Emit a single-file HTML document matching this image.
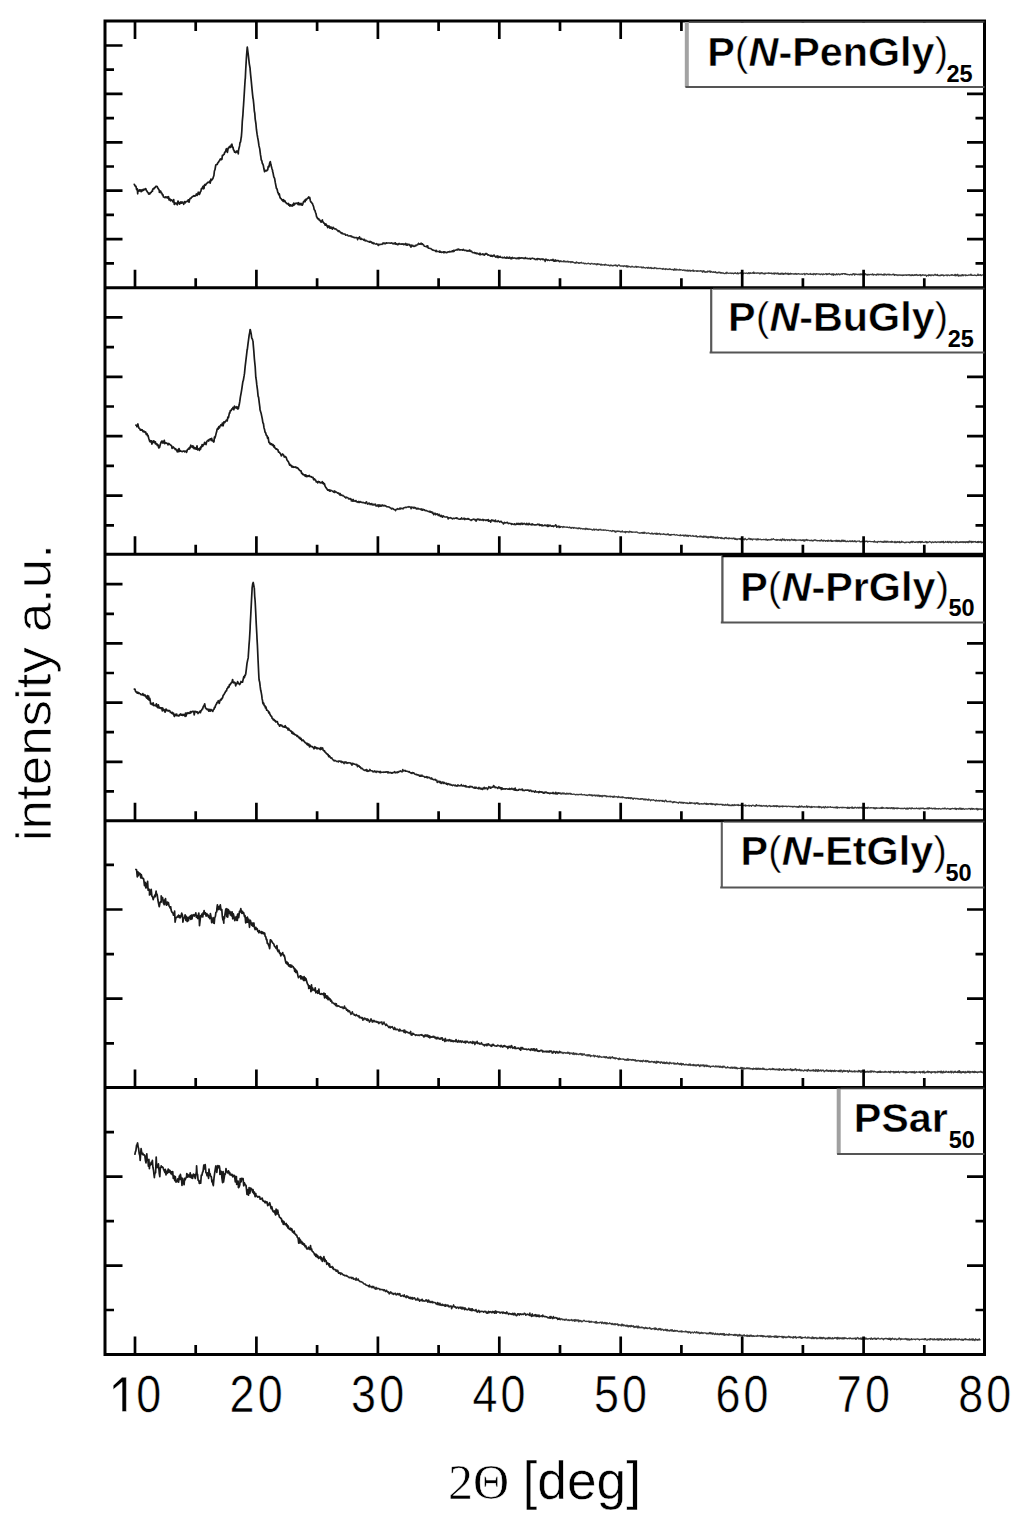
<!DOCTYPE html>
<html><head><meta charset="utf-8"><style>
html,body{margin:0;padding:0;background:#fff;}
body{width:1024px;height:1527px;overflow:hidden;}
svg{display:block;}
text{font-family:"Liberation Sans",sans-serif;}
</style></head><body>
<svg width="1024" height="1527" viewBox="0 0 1024 1527">
<rect width="1024" height="1527" fill="#fff"/>
<g fill="none" stroke-linejoin="round" stroke-linecap="round">
<path d="M134.3 184.3L134.8 185.3L135.4 186.3L136.0 186.4L136.6 189.6L137.3 188.9L137.7 193.8L137.8 191.1L138.1 190.4L138.8 191.1L139.4 189.8L139.9 190.8L140.6 190.0L141.2 191.7L141.7 190.5L141.9 190.0L142.6 190.8L143.2 189.3L143.7 190.1L144.3 189.4L145.1 189.1L145.6 189.2L145.7 188.6L146.3 190.2L147.0 191.2L147.4 192.0L148.1 192.7L148.6 194.0L148.8 193.7L149.3 193.1L149.7 194.0L150.5 192.7L151.1 192.5L151.7 191.4L152.5 191.2L152.5 190.2L153.2 188.6L153.9 188.9L154.5 187.7L155.2 187.6L155.8 186.4L156.4 186.3L156.5 186.3L157.2 186.5L157.7 188.0L158.2 188.4L158.7 189.6L159.3 190.2L159.4 192.4L160.0 191.2L160.7 191.2L161.2 193.0L161.8 193.1L162.3 194.8L162.9 194.7L163.5 197.0L164.2 197.1L164.2 197.0L164.9 197.7L165.6 196.9L166.3 197.7L167.1 196.9L167.8 198.1L168.5 196.7L169.0 199.9L169.0 199.0L169.7 198.6L170.5 200.8L171.2 199.8L171.8 200.4L172.5 200.6L173.0 201.8L173.7 199.5L174.3 204.5L174.9 202.9L175.3 203.6L175.9 203.8L176.1 203.2L176.8 203.3L177.3 204.8L178.0 201.0L178.6 202.1L179.0 202.9L179.6 204.1L180.2 203.0L180.8 201.9L181.0 202.0L181.4 203.2L182.1 201.9L182.5 203.0L183.2 203.1L183.7 203.4L183.7 204.3L184.4 201.6L185.2 202.8L185.8 201.5L186.6 201.6L187.1 201.3L187.6 201.4L188.2 199.9L188.6 200.0L188.7 200.7L189.1 202.2L189.7 199.2L190.3 198.3L190.8 198.4L191.3 197.7L192.0 197.0L192.5 196.6L193.3 196.3L193.5 196.0L194.0 195.6L194.6 196.1L195.2 196.0L195.8 195.1L196.4 194.0L197.1 195.4L197.7 194.2L198.3 192.2L199.1 193.8L199.3 194.5L199.7 193.9L200.3 191.9L200.9 191.2L201.4 188.7L202.0 188.7L202.8 186.8L203.2 186.2L203.4 188.8L204.0 188.5L204.4 185.3L205.0 184.5L205.6 185.1L206.0 184.3L206.7 183.4L207.3 183.0L207.8 182.4L208.1 182.3L208.4 182.3L209.0 182.5L209.7 181.1L210.2 183.1L210.9 179.1L211.6 180.4L212.0 179.4L212.4 179.3L213.0 178.4L213.1 177.7L213.9 175.5L214.4 171.0L215.0 169.7L215.6 166.0L215.9 164.8L216.1 164.9L216.7 164.4L217.2 164.4L217.8 162.9L218.4 162.4L218.9 161.1L219.5 160.7L220.2 159.1L220.6 159.4L220.8 158.9L221.2 159.7L221.9 159.3L222.4 155.3L222.9 155.6L223.7 154.5L224.2 154.2L224.7 152.2L225.2 152.2L225.7 151.1L225.9 150.0L226.4 148.7L226.9 149.7L227.4 152.3L228.2 148.0L228.6 148.2L228.7 148.1L229.5 146.4L229.9 146.9L230.5 147.4L231.1 145.3L231.6 144.3L231.9 144.2L232.5 147.4L233.0 147.2L233.4 149.7L234.0 150.3L234.5 152.1L234.5 151.7L235.2 152.3L235.9 152.7L236.4 151.1L237.0 151.9L237.7 151.2L238.3 153.8L238.4 151.1L239.0 148.2L239.6 145.9L240.0 142.7L240.6 141.7L241.3 136.6L241.3 137.4L241.8 131.3L242.3 121.3L242.9 114.9L243.3 108.1L243.5 105.7L244.1 96.3L244.8 84.7L245.2 78.8L245.3 78.7L245.7 70.0L246.4 57.9L246.6 55.0L247.2 47.7L247.3 47.2L248.0 52.7L248.2 54.0L248.5 56.7L249.3 63.8L250.1 68.4L250.1 69.1L250.6 74.6L251.2 80.3L252.0 88.8L252.6 94.9L253.0 98.4L253.2 98.8L253.8 104.5L254.3 110.8L254.8 113.5L255.2 119.1L255.9 123.5L256.4 129.2L257.0 133.5L257.1 134.2L257.6 137.2L258.3 140.8L259.0 145.9L259.7 148.6L260.5 154.9L260.9 157.0L261.2 159.7L261.8 160.7L262.3 163.3L262.9 164.3L263.4 165.8L263.9 168.8L264.6 171.7L264.8 170.6L265.2 171.1L265.8 170.3L266.6 170.9L267.2 170.2L267.7 169.6L267.7 169.8L268.2 166.7L269.0 166.8L269.6 163.4L270.2 161.8L270.3 161.7L270.8 164.3L271.3 166.2L271.9 168.4L272.6 170.6L272.6 171.5L273.1 173.1L273.8 176.9L274.6 178.4L275.3 182.7L276.0 186.2L276.4 188.4L276.5 188.2L277.1 189.2L277.8 192.4L278.2 192.9L278.8 194.6L279.3 194.0L279.9 197.1L280.4 198.0L280.4 198.2L281.0 198.6L281.7 199.5L282.2 200.4L282.6 199.9L283.1 201.3L283.5 199.7L284.0 201.4L284.8 200.7L285.5 202.3L285.9 202.6L286.2 202.9L286.5 203.4L287.1 203.8L287.6 203.8L288.1 203.4L288.8 205.1L289.4 204.4L290.0 206.1L290.2 205.8L290.5 204.8L291.0 205.1L291.5 205.5L292.1 206.2L292.8 204.5L293.3 205.4L293.8 203.2L294.2 205.0L294.8 204.3L295.4 203.4L296.0 203.4L296.1 203.4L296.7 203.2L297.4 203.2L298.1 204.5L298.6 202.7L299.2 204.7L299.8 203.7L300.5 204.7L301.0 203.3L301.7 204.9L301.9 204.2L302.3 205.1L302.8 204.1L303.4 201.9L304.1 201.9L304.5 200.4L305.1 201.7L305.7 199.4L306.4 199.9L307.2 198.5L307.7 198.3L308.5 197.4L308.7 197.0L309.2 198.2L309.7 197.5L310.3 200.4L310.7 201.7L311.4 202.2L312.1 203.3L312.6 203.8L312.8 204.5L313.6 206.7L314.2 209.7L314.9 210.3L315.5 212.5L316.0 213.7L316.6 216.8L317.0 217.1L317.5 218.5L318.2 218.9L318.6 218.6L319.1 219.9L319.5 219.9L320.3 220.9L320.8 221.7L321.2 222.2L321.9 220.7L322.4 219.9L322.4 221.4L323.1 222.0L323.8 223.0L324.5 223.5L325.2 225.2L325.9 223.9L326.6 225.6L327.0 225.3L327.7 227.6L327.8 226.9L328.3 226.0L329.0 227.0L329.4 226.2L330.1 228.1" stroke="#1a1a1a" stroke-width="1.7"/>
<path d="M330.1 228.1L330.9 226.9L331.3 228.4L331.9 227.5L332.5 229.2L333.2 227.3L333.7 227.9L333.7 228.3L334.2 228.3L334.7 228.9L335.4 228.8L336.1 229.5L336.6 229.3L337.2 230.4L337.7 230.5L338.3 231.5L338.9 230.6L339.3 231.6L339.5 231.8L339.9 231.5L340.7 233.0L341.2 232.5L341.9 233.7L342.4 233.0L343.1 233.9L343.8 234.0L344.4 234.1L345.0 234.0L345.4 234.7L345.6 235.3L346.3 235.0L347.0 235.0L347.5 234.9L347.9 235.8L348.6 236.0L349.4 236.0L350.0 235.7L350.6 236.0L351.2 236.6L351.7 236.1L352.3 237.0L352.8 237.0L353.4 237.4L353.9 237.1L354.4 237.7L355.1 237.7L355.9 237.6L356.4 237.6L357.1 237.8L357.6 239.7L358.3 237.7L359.0 238.3L359.0 238.2L359.5 236.8L360.0 238.6L360.4 239.4L361.0 238.2L361.6 239.4L362.1 239.3L362.6 239.1L363.1 239.4L363.8 240.2L364.3 239.2L365.1 241.0L365.7 240.2L366.3 240.7L366.9 240.9L367.6 241.4L368.3 241.7L369.0 241.3L369.6 242.3L370.2 241.4L371.0 242.2L371.5 241.9L372.2 243.4L373.0 242.6L373.6 243.8L374.1 243.1L374.6 243.6L375.2 243.9L375.9 244.1L376.7 243.5L377.4 244.6L377.9 244.6L378.4 245.5L378.6 244.8L378.9 244.1L379.4 244.6L380.1 244.6L380.8 244.3L381.5 244.2L382.1 244.4L382.8 243.0L383.3 243.6L383.9 242.9L384.6 243.6L385.0 243.2L385.5 243.8L386.2 242.8L386.4 242.9L386.7 243.3L387.3 243.0L387.9 243.1L388.6 243.0L389.0 242.9L389.5 243.0L390.1 243.2L390.7 243.1L391.2 243.1L391.8 242.8L392.6 243.6L393.1 243.5L393.8 243.9L394.2 243.1L394.8 243.9L395.4 242.7L395.9 244.3L396.6 243.8L397.4 244.8L397.8 244.7L398.1 243.7L398.6 244.5L399.1 243.4L399.8 243.9L400.5 243.9L401.0 244.3L401.7 243.8L402.4 244.3L403.1 243.7L403.6 244.7L404.3 244.1L405.0 244.5L405.7 243.4L406.3 245.3L406.8 244.0L407.4 245.2L407.9 244.5L407.9 244.0L408.6 244.8L409.3 244.4L409.9 245.8L410.4 245.1L411.0 247.3L411.7 245.1L412.2 246.1L412.9 245.4L413.6 246.4L413.8 246.4L414.0 246.5L414.8 246.1L415.2 245.3L415.8 245.9L416.5 245.1L417.1 245.0L417.7 244.8L418.4 243.3L419.0 244.1L419.5 244.3L420.0 243.7L420.4 244.2L420.6 243.5L421.1 243.1L421.8 244.4L422.4 243.7L423.1 244.8L423.6 244.7L424.1 246.0L424.7 246.3L425.4 246.4L425.9 246.5L426.5 246.7L427.0 245.9L427.4 247.4L427.7 245.7L428.2 247.8L428.8 248.3L429.3 248.2L430.0 248.4L430.6 248.4L431.2 249.0L431.9 249.5L432.4 250.1L432.9 249.7L433.4 250.2L433.8 250.5L434.5 250.4L435.2 250.6L435.7 251.5L436.2 250.2L436.2 251.3L436.8 251.7L437.4 251.3L438.1 251.4L438.8 251.4L439.5 252.3L439.9 250.9L440.5 252.2L441.0 251.7L441.6 252.4L442.2 252.2L442.7 252.3L443.2 251.7L443.9 253.0L444.4 251.7L445.1 252.0L445.8 252.5L446.6 252.7L447.0 252.7L447.1 252.0L447.8 252.1L448.4 251.8L449.0 252.1L449.8 251.4L450.5 251.9L451.0 251.6L451.7 251.6L452.3 250.7L453.0 251.7L453.6 250.3L454.1 251.4L454.8 250.2L455.4 250.3L456.0 250.0L456.6 249.9L457.2 249.3L457.7 249.9L458.3 249.0L458.7 249.3L458.7 249.7L459.3 249.4L460.0 250.2L460.6 249.7L461.2 249.8L462.0 250.0L462.7 250.3L463.2 249.3L463.9 249.9L464.5 250.5L465.0 250.5L465.5 250.3L466.0 250.5L466.5 250.4L467.1 251.3L467.8 250.5L468.4 250.6L468.4 250.7L469.1 251.3L469.8 249.9L470.2 251.0L471.0 251.5L471.6 251.1L472.4 252.6L473.0 252.7L473.7 252.7L474.3 252.4L475.0 253.4L475.7 252.7L476.2 253.6L476.5 253.6L477.0 253.1L477.7 253.7L478.3 254.1L478.8 254.2L479.2 253.3L479.7 254.6L480.2 253.2L480.6 254.7L481.2 254.4L481.9 254.3L482.5 253.7L483.1 254.8L483.8 254.1L484.3 255.3L484.9 254.7L485.6 253.5L486.1 254.2L486.6 253.5L487.4 254.3L488.0 255.2L488.0 255.1L488.6 254.8L489.1 255.2L489.8 255.4L490.4 256.1L490.9 255.2L491.3 256.2L491.8 255.6L492.5 256.4L493.0 255.5L493.6 256.0L494.1 254.9L494.5 256.1L495.0 256.4L495.6 257.1L496.1 256.2L496.5 256.9L497.0 256.0L497.4 257.5L498.0 255.9L498.5 257.6L498.9 256.7L499.5 257.3L499.7 257.1L500.1 256.3L500.7 257.3L501.2 257.4L501.7 257.5L502.3 257.3L502.7 257.9L503.5 257.7L504.0 257.6L504.4 257.1L505.0 258.0L505.5 257.8L506.2 258.3L506.7 257.1L507.2 258.0L507.6 257.2L508.3 258.3L508.8 258.0L509.5 258.1L509.5 257.0L510.1 257.8L510.9 258.9L511.4 257.7L511.9 258.7L512.4 257.4L513.1 258.0L513.8 258.2L514.3 257.9L514.8 258.0L515.4 258.4L516.2 258.2L516.8 258.7L517.3 258.0L517.7 258.5L518.1 258.0L518.6 258.7L519.0 257.6L519.2 258.1L519.5 258.6L520.1 257.9L520.9 258.3L521.4 257.8L522.2 258.1L522.8 257.9L523.5 258.5L524.2 258.1L525.0 258.6L525.4 257.5L525.9 258.2L526.6 258.4L527.3 258.2L527.8 258.8L528.3 258.7L529.0 258.6L529.5 258.7L530.0 258.3L530.6 259.2L531.3 258.6L532.0 258.3L532.5 258.1L533.2 258.6L533.9 258.8L534.4 258.6L534.6 258.9L535.2 259.6L536.0 259.0L536.5 258.9L537.1 259.8L537.6 258.5L538.3 259.0L538.9 258.8L539.4 259.1L539.9 258.9L540.5 259.7L541.2 259.0L541.9 259.1L542.4 258.9L543.0 259.7L543.5 259.1L544.2 259.8L544.6 259.8L545.2 261.4L545.9 259.0L546.5 259.5L547.0 259.8L547.5 260.4L548.2 259.8L548.9 260.2L549.6 260.5L550.4 260.1L550.9 259.8L551.7 260.2L552.4 260.5L552.9 259.3L553.5 260.2L553.9 261.3L554.5 260.2L555.2 261.2L555.7 259.9L556.3 260.9L556.8 260.9L557.2 260.7L557.9 260.4L558.4 260.8L558.8 261.0L558.8 260.7L559.3 261.6L559.9 261.6L560.6 261.3" stroke="#222" stroke-width="1.55"/>
<path d="M560.6 261.3L561.0 260.7L561.5 261.6L562.3 261.6L562.8 261.6L563.4 260.8L564.0 261.9L564.7 260.9L565.3 261.9L566.0 261.6L566.6 261.8L567.1 261.2L567.6 261.9L568.0 261.2L568.8 262.2L569.2 261.7L569.6 261.8L570.4 261.6L570.9 262.7L571.6 261.6L572.1 262.2L572.7 261.6L573.2 262.4L573.9 262.5L574.5 263.0L575.2 262.5L575.9 263.3L576.6 261.9L577.2 262.7L577.8 262.6L578.4 263.3L578.8 262.6L579.6 263.3L580.2 262.6L580.9 262.9L581.4 262.3L582.0 263.1L582.6 263.2L583.2 263.2L583.3 262.9L583.7 263.3L584.3 263.8L584.9 263.1L585.3 263.7L585.9 263.5L586.6 263.9L587.2 263.7L587.9 263.4L588.5 263.2L589.0 263.7L589.5 263.6L590.3 264.4L590.9 263.5L591.4 263.7L591.9 263.3L592.4 263.9L592.9 263.8L593.6 264.2L594.3 263.6L595.0 264.2L595.8 263.9L596.4 264.8L597.2 263.6L597.8 264.6L598.4 263.9L599.1 264.3L599.9 264.1L600.6 265.0L601.2 264.1L601.9 265.2L602.5 264.6L603.3 264.8L604.0 264.7L604.6 265.2L605.3 264.2L605.8 265.0L606.3 264.7L606.9 265.1L607.5 265.1L608.1 265.4L608.7 265.0L609.2 265.5L609.9 266.0L610.4 265.2L610.9 265.0L611.5 265.7L612.2 265.4L612.9 266.0L613.4 265.3L613.8 265.3L614.4 265.2L614.9 265.5L615.4 264.9L615.9 265.6L616.6 265.2L617.2 266.5L618.0 265.3L618.8 264.9L619.5 265.2L619.9 265.9L620.1 266.0L620.5 265.8L621.1 266.1L621.7 265.9L622.3 266.1L622.9 265.8L623.4 266.5L624.2 265.7L624.7 266.1L625.3 266.0L626.0 266.6L626.7 265.6L627.2 267.2L627.8 266.0L628.5 266.7L628.9 266.2L629.4 266.6L630.0 266.7L630.6 267.1L631.1 266.9L631.5 266.9L632.0 266.1L632.7 266.8L633.3 266.8L634.0 267.2L634.8 267.0L635.5 266.9L636.0 266.2L636.4 267.3L636.9 266.7L637.4 267.1L638.0 266.6L638.4 266.8L639.0 267.2L639.5 267.2L640.0 267.2L640.5 267.1L641.2 266.8L641.8 267.8L642.3 267.3L642.8 267.9L643.3 267.0L644.0 267.7L644.6 267.6L645.4 268.2L646.1 267.7L646.6 267.7L647.1 267.4L647.8 268.2L648.5 267.3L649.1 268.2L649.8 267.8L650.4 268.1L650.9 267.4L651.4 268.6L651.9 268.0L652.5 268.4L653.2 268.1L654.0 268.6L654.6 267.5L655.2 268.1L656.0 268.0L656.5 268.3L656.7 268.7L657.3 268.4L657.9 268.6L658.5 268.6L659.0 268.3L659.5 268.5L660.1 268.4L660.9 268.7L661.5 268.8L662.1 268.7L662.7 269.3L663.2 268.4L664.0 269.2L664.5 269.0L665.3 269.6L665.8 268.6L666.3 268.9L666.9 269.1L667.5 269.5L668.2 269.1L668.9 269.5L669.7 268.8L670.3 269.4L670.8 269.2L671.4 269.7L672.0 269.5L672.6 269.6L673.1 269.5L673.8 270.2L674.5 268.8L675.0 270.1L675.7 269.3L676.2 270.1L676.8 269.2L677.6 269.9L678.3 269.9L679.0 270.1L679.5 269.3L680.2 270.0L680.7 269.6L681.3 269.8L682.0 269.8L682.5 270.4L683.0 270.3L683.8 269.9L684.6 270.1L685.1 270.9L685.6 270.1L686.2 270.5L686.6 270.5L687.1 271.1L687.9 270.0L688.4 271.1L688.9 270.7L689.4 270.8L689.8 270.1L690.4 271.2L691.1 270.6L691.8 270.8L692.5 270.2L693.1 270.8L693.2 271.3L693.6 270.2L694.1 271.3L694.9 270.8L695.4 270.9L695.9 270.8L696.5 271.3L697.0 270.7L697.6 271.3L698.0 270.7L698.5 271.1L699.3 271.0L699.8 271.2L700.5 270.6L701.0 271.2L701.8 270.9L702.4 272.2L703.1 270.8L703.6 271.7L704.0 270.8L704.7 272.1L705.2 271.6L705.7 272.3L706.4 271.6L707.1 272.3L707.6 271.1L708.3 271.7L708.9 271.2L709.5 271.8L710.0 270.8L710.5 272.3L711.3 271.5L711.8 272.0L712.3 272.3L712.8 272.2L713.2 271.7L713.8 272.4L714.5 272.0L715.0 272.4L715.5 271.7L716.2 272.9L717.0 272.6L717.8 273.0L718.3 272.1L718.8 272.5L719.6 272.1L720.2 273.2L720.8 272.4L721.4 273.1L721.8 272.7L722.4 273.2L723.0 272.7L723.7 273.4L724.4 273.6L725.0 273.3L725.6 272.9L726.1 273.6L726.8 272.2L727.5 273.2L728.0 273.2L728.6 273.3L729.4 273.2L729.7 273.2L730.1 273.3L730.6 272.9L731.3 273.6L732.1 273.0L732.5 273.4L733.0 273.3L733.5 273.7L734.0 273.2L734.8 273.4L735.3 272.7L736.1 273.4L736.5 273.4L737.0 273.8L737.7 272.7L738.4 273.8L739.2 273.2L739.8 273.2L740.4 272.7L741.1 273.6L741.6 273.1L742.2 273.4L742.8 272.9L743.2 273.8L743.9 273.1L744.4 273.2L745.0 273.1L745.6 273.3L746.1 273.2L746.7 273.0L747.3 273.3L748.1 273.7L748.8 272.6L749.6 273.5L750.3 272.8L750.8 273.4L751.6 273.2L752.1 273.2L752.6 272.7L753.2 273.4L753.8 272.0L754.4 273.4L755.0 272.9L755.6 273.2L756.3 273.0L756.9 273.3L757.5 272.8L758.1 273.2L758.9 273.0L759.6 273.8L760.0 273.2L760.2 273.0L760.8 273.7L761.5 272.7L761.9 273.1L762.5 272.8L763.2 273.8L763.9 273.4L764.3 274.0L765.1 273.0L765.6 273.7L766.4 273.2L767.0 273.2L767.5 273.1L768.1 273.5L768.8 272.8L769.4 273.4L770.1 273.2L770.8 273.4L771.3 273.0L771.9 273.9L772.5 273.4L773.0 273.6L773.6 273.1L774.2 274.2L775.0 272.8L775.6 273.5L776.1 273.6L776.6 273.8L777.1 272.9L777.8 273.7L778.2 273.1L778.7 274.2L779.2 273.8L779.8 274.2L780.2 273.4L780.8 274.2L781.5 273.2L782.2 274.2L782.8 273.2L783.6 274.4L784.3 273.5L785.0 274.1L785.6 273.0L786.3 273.8L786.7 273.6L787.5 274.1L788.0 273.1L788.6 274.5L789.4 273.6L789.9 274.2L790.4 273.3L791.1 274.1L791.7 273.6L792.2 273.9L792.6 273.8L793.2 274.0L793.6 273.9L794.3 274.2L794.8 273.7L795.3 274.0L795.9 273.4L796.5 274.3L797.0 273.9L797.7 274.0L798.4 273.6L798.9 273.7L799.4 274.1L800.1 274.1L800.8 274.1L801.0 274.0L801.3 274.1L801.9 274.0L802.5 274.3L803.3 273.8L803.8 273.9L804.2 273.5L804.8 274.8L805.4 273.8L806.1 273.9L806.8 273.5L807.4 274.0L807.9 274.0L808.5 274.4L809.3 274.1L809.8 274.1L810.3 273.5L810.8 274.3L811.4 274.1L811.9 274.3L812.6 274.0L813.2 274.7L813.9 273.5L814.3 274.0L814.8 273.9L815.4 274.7L816.1 273.6L816.8 274.1L817.3 273.9L818.0 273.8L818.7 274.1L819.3 273.9L819.8 274.4L820.3 274.6L821.1 274.1L821.5 274.0L822.2 274.1L822.8 274.8L823.4 273.9L824.0 274.1L824.8 274.3L825.5 273.9L826.2 273.6L826.7 274.6L827.1 274.0L827.7 274.3L828.2 273.8L828.7 274.1L829.5 273.5L830.0 274.1L830.7 274.3L831.5 274.8L831.9 273.8L832.7 274.7L833.2 273.8L833.7 275.3L834.2 274.2L834.6 274.3L835.2 274.4L835.8 274.9L836.5 273.8L837.2 274.7L837.7 274.2L838.2 274.2L838.8 273.8L839.3 274.8L839.8 274.3L840.3 274.6L841.0 273.9L841.5 274.2L842.0 273.6L842.5 274.3L843.1 273.6L843.7 273.6L844.2 273.6L844.9 274.2L845.4 273.6L846.0 274.4L846.7 274.1L847.1 274.5L847.8 274.3L848.4 274.7L849.0 274.6L849.7 275.0L850.3 274.3L850.9 274.3L851.3 274.4L852.0 275.0L852.8 274.0L853.4 274.1L854.0 273.6L854.5 275.1L855.2 274.0L855.9 274.6L856.4 274.2L857.1 274.5L857.9 274.3L858.4 274.6L859.2 274.1L859.8 274.7L860.3 273.9L861.0 274.7L861.5 274.0L862.0 274.4L862.2 274.8L862.8 274.0L863.3 274.7L863.9 274.3L864.6 275.0L865.2 273.7L865.8 274.5L866.6 274.5L867.1 275.2L867.7 274.4L868.4 274.9L869.1 274.4L869.6 274.9L870.0 274.6L870.7 274.4L871.4 274.3L871.9 274.9L872.6 273.9L873.4 275.1L874.0 274.3L874.8 274.6L875.5 274.7L876.2 275.2L876.7 274.3L877.1 274.7L877.8 273.9L878.5 274.9L879.0 274.2L879.6 274.6L880.2 274.2L880.7 274.7L881.4 274.2L882.0 274.8L882.6 274.7L883.0 275.0L883.7 274.2L884.2 275.1L884.9 273.9L885.4 274.7L885.9 274.7L886.4 275.1L887.0 274.3L887.6 274.7L888.1 274.2L888.5 274.8L889.1 274.1L889.6 275.0L890.2 274.5L890.7 274.8L891.1 274.8L891.7 274.9L892.5 274.3L893.2 274.6L893.8 274.1L894.4 275.4L894.8 274.7L895.4 275.0L895.9 274.6L896.6 275.2L897.1 274.8L897.9 275.5L898.5 274.9L899.0 275.2L899.5 274.9L900.3 275.3L900.8 274.9L901.4 275.3L902.0 275.1L902.5 275.5L903.0 274.9L903.8 275.4L904.5 275.0L905.2 275.0L905.9 274.9L906.4 275.4L907.1 274.9L907.8 275.2L908.3 274.7L908.8 275.0L909.6 274.7L910.1 275.6L910.8 275.0L911.3 275.6L912.0 274.6L912.5 275.4L913.1 275.1L913.7 275.5L914.4 274.8L915.1 275.4L915.7 274.6L916.4 275.1L916.9 274.5L917.6 275.5L918.1 275.2L918.8 275.4L919.4 274.8L920.0 275.2L920.4 274.6L920.9 275.9L921.5 275.1L922.0 275.4L922.7 274.7L923.0 275.2L923.3 275.2L924.1 275.0L924.8 275.4L925.5 275.0L926.0 275.1L926.5 276.3L927.1 275.4L927.8 275.3L928.5 275.8L929.0 274.5L929.5 275.3L930.3 274.9L931.0 275.7L931.5 274.9L932.2 275.1L932.7 275.0L933.3 275.6L934.0 275.0L934.6 275.0L935.1 274.2L935.6 275.1L936.2 274.9L937.0 275.4L937.4 274.4L937.9 275.6L938.3 275.3L939.0 275.6L939.6 275.3L940.1 275.8L940.9 275.0L941.6 275.4L942.1 274.7L942.8 275.4L943.2 275.0L943.7 275.9L944.4 275.3L944.9 275.3L945.3 275.2L945.9 275.1L946.4 275.0L947.2 275.8L947.6 274.9L948.4 275.0L948.9 275.2L949.6 275.7L950.2 275.1L950.9 275.2L951.4 274.7L951.9 275.4L952.5 274.7L953.2 275.1L953.7 275.3L954.2 275.5L954.8 274.5L955.3 275.9L955.8 274.3L956.4 275.6L957.0 275.2L957.7 274.3L958.2 276.1L958.6 276.0L959.1 275.0L959.6 275.8L960.1 275.5L960.7 275.9L961.2 274.9L961.9 275.7L962.6 274.6L963.2 275.7L963.9 275.0L964.5 275.2L965.1 274.8L965.6 275.7L966.1 275.0L966.8 275.5L967.4 275.3L967.8 275.6L968.6 274.9L969.2 275.1L969.9 274.9L970.4 275.2L970.9 274.1L971.7 275.4L972.2 275.3L972.7 275.2L973.5 275.3L974.0 275.4L974.6 275.0L975.1 275.1L975.7 275.4L976.4 275.7L977.0 275.1L977.4 275.4L978.0 274.0L978.4 275.4L979.1 274.8L979.8 275.3L980.6 274.6L981.0 275.6L981.7 275.3L982.2 275.0L982.8 274.8L983.3 275.2L983.9 274.8L984.0 275.2" stroke="#3a3a3a" stroke-width="1.3"/>
<path d="M135.9 425.2L136.4 425.3L136.9 426.7L137.4 425.4L137.9 424.0L138.3 426.4L138.9 428.1L139.7 428.6L140.4 430.2L141.1 429.7L141.6 429.8L141.7 430.1L142.2 429.8L142.7 431.0L143.2 431.8L143.6 431.3L144.1 431.2L144.9 432.4L145.6 432.0L146.3 434.4L147.0 433.6L147.5 435.7L147.6 435.0L148.1 435.6L148.7 438.3L149.4 440.2L149.5 440.9L150.1 441.9L150.8 440.7L151.3 440.9L151.9 444.1L152.6 441.9L153.2 440.8L153.7 442.4L154.3 441.2L154.7 442.7L155.4 441.8L155.5 443.9L156.2 444.0L156.8 443.6L157.3 445.4L158.1 444.9L158.7 447.8L159.3 447.7L159.5 447.5L160.2 444.7L160.8 443.0L161.2 441.8L161.4 442.3L162.0 441.0L162.6 442.9L163.1 441.6L163.6 442.8L164.3 440.3L164.7 443.6L165.2 443.0L165.8 442.7L166.3 443.2L166.9 443.3L167.5 443.5L168.1 444.8L168.8 443.4L169.0 443.8L169.3 444.3L169.9 444.5L170.4 444.9L171.1 445.3L171.6 445.8L172.1 448.4L172.8 447.3L173.3 447.0L174.0 448.0L174.7 448.3L175.2 449.4L175.6 448.8L176.1 449.6L176.8 450.9L176.9 450.6L177.4 451.8L178.0 449.7L178.5 451.6L179.0 448.5L179.6 451.3L180.0 450.6L180.7 450.9L181.4 451.3L182.2 451.6L182.9 451.3L183.6 451.0L184.1 451.1L184.6 451.8L184.7 451.6L185.3 451.3L186.1 451.1L186.6 452.3L187.4 449.7L188.0 449.1L188.7 449.1L189.3 447.7L189.7 448.8L190.3 447.1L190.8 445.2L191.3 446.3L192.1 447.0L192.5 446.7L192.7 445.9L193.1 447.7L193.5 446.4L194.0 448.6L194.7 447.9L195.2 448.8L195.8 447.8L196.2 449.1L197.0 445.9L197.6 450.0L198.1 448.7L198.5 449.2L198.9 449.0L199.3 449.6L199.4 450.5L200.1 447.8L200.6 449.0L201.0 446.7L201.6 447.1L202.1 444.7L202.9 446.1L203.3 444.8L204.0 444.5L204.2 443.8L204.7 442.3L205.2 443.6L206.0 444.5L206.6 442.1L207.1 441.0L207.7 440.8L208.1 440.1L208.7 441.0L209.2 439.6L209.9 439.2L210.1 438.9L210.7 438.9L211.2 440.5L211.7 438.4L212.2 440.7L212.7 440.3L213.2 441.4L213.7 442.0L214.0 441.8L214.4 437.2L214.9 438.0L215.3 436.7L216.1 433.6L216.7 431.6L216.9 430.1L217.5 428.5L218.1 429.2L218.8 426.7L219.5 427.8L220.2 425.6L220.8 425.2L220.8 424.8L221.4 425.1L221.9 425.5L222.4 423.0L223.1 425.8L223.9 421.9L224.6 422.7L225.2 421.7L225.8 421.1L226.5 420.1L226.7 420.4L227.2 420.9L227.9 417.0L228.5 417.6L229.2 413.9L229.6 412.5L229.8 413.2L230.3 410.7L231.1 410.6L231.9 408.8L232.3 409.1L233.1 407.3L233.8 409.7L234.5 406.7L234.5 406.2L234.9 407.8L235.7 407.2L236.2 408.1L236.9 406.7L237.6 409.0L238.0 407.4L238.4 408.6L238.5 407.6L239.2 404.8L239.8 401.4L240.4 396.9L240.5 396.4L241.2 392.6L241.7 389.6L242.1 386.8L242.9 381.4L243.3 380.6L244.1 375.9L244.3 374.5L244.5 373.4L245.2 366.2L245.9 360.3L246.7 353.6L247.2 349.1L247.3 349.6L248.0 343.8L248.5 340.2L249.2 334.9L249.7 332.6L250.1 329.5L250.4 330.1L251.2 333.9L251.7 338.0L252.3 338.9L252.8 340.6L253.0 341.2L253.2 344.1L253.8 350.9L254.4 359.1L255.2 367.0L255.8 377.2L256.0 378.4L256.3 380.2L256.8 384.9L257.5 389.8L258.1 396.1L258.6 397.3L259.3 403.2L259.9 407.7L260.0 409.6L260.4 411.1L261.1 413.2L261.6 415.6L262.3 418.9L262.9 422.8L263.4 423.3L264.0 427.7L264.7 430.0L264.8 431.1L265.2 432.4L265.6 432.6L266.3 435.2L267.0 435.7L267.6 438.4L268.2 437.5L268.9 442.4L269.6 442.8L269.6 442.4L270.1 444.1L270.8 443.6L271.3 444.7L271.8 444.0L272.6 445.3L273.1 444.7L273.8 446.9L274.3 445.7L274.5 446.7L275.1 448.2L275.5 448.3L276.0 449.2L276.6 448.8L277.1 449.6L277.8 449.6L278.5 452.1L279.2 452.1L279.6 452.5L280.1 453.4L280.4 453.6L280.8 454.4L281.4 455.8L282.0 454.6L282.6 454.0L283.1 454.8L283.6 455.0L284.3 457.0L284.9 456.5L285.3 456.5L285.6 456.7L286.3 457.8L287.0 459.9L287.6 460.7L288.3 461.7L288.8 462.7L289.6 465.1L290.1 464.5L290.2 465.3L290.9 465.7L291.4 465.4L292.1 467.1L292.9 466.5L293.5 467.3L294.1 467.1L294.5 467.1L295.2 467.3L295.8 466.9L296.4 467.9L296.9 467.7L297.4 467.8L297.8 467.8L298.0 468.2L298.6 469.2L299.0 469.6L299.8 470.5L300.3 470.8L301.0 470.8L301.5 473.1L302.1 473.2L302.6 474.4L303.2 474.2L303.8 475.0L303.9 475.0L304.4 474.9L305.1 476.2L305.6 474.9L306.1 476.5L306.6 475.5L307.0 476.7L307.8 475.9L308.5 476.3L309.2 475.4L309.9 476.7L310.6 476.6L311.1 476.6L311.6 477.0L311.8 477.3L312.4 477.5L313.0 477.4L313.7 479.7L314.4 478.8L315.2 480.0L315.7 480.3L316.3 481.9L317.0 481.8L317.5 481.9L317.7 482.9L318.3 481.5L319.0 482.0L319.6 481.9L320.3 482.9L320.9 482.5L321.5 482.9L322.3 481.6L322.9 483.5L323.4 482.9L323.5 482.9L324.0 484.3L324.5 483.9L325.1 486.2L325.9 487.6L326.7 488.5L327.2 489.4L327.3 489.5L327.8 490.1L328.5 489.8L329.0 490.7L329.6 489.9L330.0 491.1" stroke="#1a1a1a" stroke-width="1.7"/>
<path d="M330.0 491.1L330.5 490.2L331.1 490.4L331.8 490.6L332.4 491.4L333.0 491.3L333.8 492.3L334.4 490.9L334.6 491.7L334.9 492.6L335.3 491.4L336.1 492.0L336.9 492.5L337.6 493.1L338.2 492.8L338.8 493.9L339.2 493.3L339.8 495.0L340.2 493.6L341.0 495.4L341.8 495.0L342.4 495.6L342.9 495.3L343.4 495.9L344.0 496.2L344.4 496.6L344.7 497.2L345.2 497.0L345.9 498.1L346.6 497.1L347.2 497.6L347.9 497.7L348.5 498.9L349.1 498.7L349.6 499.0L350.0 498.4L350.4 499.3L351.0 498.9L351.4 501.0L351.9 499.7L352.6 501.2L353.2 499.4L353.9 501.2L354.2 501.0L354.6 500.9L355.3 501.4L355.9 500.5L356.7 501.9L357.4 501.7L358.1 502.5L358.7 501.4L359.4 502.5L360.1 501.5L360.7 502.1L361.3 502.0L361.8 502.5L362.5 502.6L363.1 502.2L363.5 502.8L363.9 502.7L364.0 502.7L364.8 503.0L365.3 503.4L365.8 502.4L366.5 501.8L367.2 503.7L367.8 504.3L368.3 503.3L368.9 503.5L369.3 503.1L370.1 504.6L370.5 503.8L371.2 504.2L371.7 503.5L372.2 505.0L372.9 504.2L373.6 504.9L374.1 504.2L374.8 504.9L375.4 504.1L376.0 506.0L376.2 505.2L376.5 505.6L377.2 506.0L378.0 504.7L378.7 506.7L379.4 504.9L380.2 506.3L380.8 505.1L381.5 506.1L382.2 504.9L382.8 505.7L383.3 505.3L383.9 506.0L384.7 505.4L385.2 505.9L385.9 505.7L385.9 505.9L386.6 506.8L387.2 506.7L387.7 506.7L388.3 507.0L388.8 506.9L389.6 507.3L390.2 507.9L390.8 507.9L391.5 509.0L392.1 508.3L392.7 508.5L393.4 509.0L394.1 509.5L394.9 509.7L395.6 510.7L395.7 510.0L396.3 509.2L396.9 509.5L397.6 508.6L398.2 508.9L399.0 509.4L399.5 508.7L400.0 508.0L400.6 509.0L401.2 508.2L401.9 508.4L402.5 508.5L403.0 508.9L403.5 507.9L403.9 507.8L404.6 507.7L405.4 507.3L406.1 507.6L406.5 507.5L407.3 506.9L407.9 506.9L408.0 507.0L408.6 507.1L409.0 506.6L409.8 507.0L410.4 507.0L411.1 508.7L411.5 507.1L412.2 507.7L412.6 507.2L413.2 507.3L413.7 508.2L414.2 507.2L414.9 508.0L415.6 507.6L416.4 509.0L416.9 508.5L417.4 509.0L417.7 508.3L418.1 508.2L418.5 509.0L419.1 509.1L419.9 508.9L420.5 509.1L421.3 509.9L421.8 508.9L422.5 510.3L423.2 509.3L423.9 509.9L424.4 509.7L424.9 510.5L425.3 510.6L426.1 510.6L426.8 510.6L427.4 511.1L428.0 511.4L428.6 511.6L429.2 511.2L429.9 511.8L430.0 512.3L430.5 511.4L431.2 512.2L431.7 511.9L432.3 513.2L432.7 512.2L433.2 513.4L433.7 514.7L434.5 513.4L435.0 513.1L435.6 514.7L436.1 513.9L436.9 514.4L437.4 513.9L437.8 514.7L438.3 515.5L439.1 514.2L439.6 515.7L439.7 515.0L440.5 516.5L441.1 515.2L441.5 516.6L442.1 515.9L442.6 517.2L443.4 515.8L443.9 516.4L444.4 516.7L445.1 516.9L445.6 516.9L446.4 516.9L446.9 516.8L447.5 517.2L448.2 519.0L448.9 517.6L449.4 517.9L450.1 518.0L450.6 517.6L451.3 518.2L451.7 518.3L452.4 519.0L452.9 518.6L453.4 518.2L453.8 518.4L454.3 518.6L454.3 518.4L454.9 518.3L455.6 518.3L456.3 517.7L456.8 518.5L457.6 518.1L458.1 518.8L458.6 519.1L459.4 519.2L460.1 518.9L460.8 519.3L461.6 517.8L462.0 518.7L462.7 519.1L463.4 519.0L464.1 518.1L464.8 519.6L465.3 518.6L465.8 518.9L466.2 519.0L466.5 519.1L466.8 519.1L467.4 518.5L468.0 519.1L468.6 518.5L469.3 519.4L470.0 519.7L470.7 519.9L471.1 520.5L471.6 519.7L472.1 519.7L472.6 519.8L473.2 519.1L473.7 519.2L474.4 519.3L474.9 520.0L475.5 519.5L476.1 521.3L476.9 519.4L477.4 519.6L477.9 518.8L478.7 519.6L479.2 519.4L479.6 520.1L480.1 519.3L480.8 520.0L481.1 519.8L481.5 520.1L482.3 519.9L482.9 519.3L483.3 520.6L483.9 519.7L484.5 519.9L485.1 519.9L485.6 520.4L486.1 520.0L486.7 520.4L487.2 519.9L487.8 520.6L488.3 519.5L488.7 521.3L489.4 520.8L490.1 520.6L490.7 522.3L491.1 520.8L491.7 519.8L492.3 520.8L493.0 520.1L493.6 521.0L494.4 520.6L495.0 521.7L495.5 520.1L495.8 521.0L496.1 521.2L496.8 521.5L497.4 521.7L498.1 520.6L498.5 521.2L499.1 521.5L499.8 522.1L500.3 521.3L500.7 521.7L501.2 521.3L501.7 522.2L502.3 522.5L502.8 522.9L503.5 524.0L503.9 523.2L504.5 522.3L505.2 523.0L505.8 522.8L506.5 522.7L507.3 522.3L507.8 523.0L508.4 523.6L509.0 523.3L509.6 523.3L510.1 523.4L510.9 523.5L511.4 524.5L511.9 523.6L512.4 524.0L512.9 524.0L513.1 524.4L513.8 524.3L514.6 523.7L515.0 524.8L515.7 524.2L516.3 524.4L516.8 523.3L517.5 524.2L518.2 523.4L518.7 524.4L519.4 523.5L520.1 524.6L520.8 523.4L521.4 523.9L521.9 523.1L522.4 524.4L522.9 523.6L523.7 524.0L524.2 523.3L524.8 523.7L525.3 524.2L526.0 524.7L526.7 523.3L527.5 524.7L527.5 524.0L528.0 524.2L528.5 524.7L529.0 523.3L529.6 524.2L530.3 524.4L531.0 524.7L531.5 524.1L532.0 525.0L532.5 523.9L533.1 524.4L533.8 524.8L534.3 525.0L535.1 524.8L535.8 525.0L536.5 524.7L537.0 524.7L537.8 524.0L538.5 524.8L539.3 524.2L539.7 525.5L540.2 524.8L540.7 525.3L541.3 524.8L541.9 526.0L542.3 524.9L543.0 525.7L543.6 525.7L544.3 525.3L544.6 525.4L544.9 524.9L545.5 525.6L546.2 525.3L546.6 525.9L547.2 525.1L547.7 526.5L548.1 524.9L548.8 526.4L549.4 525.2L549.9 525.4L550.4 525.3L551.0 526.1L551.5 526.1L552.1 526.2L552.6 525.7L553.4 526.6L553.8 525.9L554.5 526.0L555.1 525.7L555.7 524.8L556.3 525.6L556.8 527.2L557.5 526.4L558.1 526.4L558.7 526.1L559.2 527.5L559.9 526.3L560.4 527.2" stroke="#222" stroke-width="1.55"/>
<path d="M560.4 527.2L561.0 526.7L561.6 526.7L562.2 526.7L562.9 527.5L563.5 526.5L564.0 527.0L564.1 527.1L564.7 526.8L565.4 527.2L566.1 527.0L566.8 527.4L567.4 527.0L568.0 527.4L568.5 527.7L569.0 527.5L569.5 527.0L570.1 527.9L570.6 527.5L571.2 528.4L571.7 527.5L572.2 527.8L572.9 527.4L573.5 528.3L574.2 527.4L574.9 528.0L575.4 528.0L576.1 528.1L576.6 528.0L577.1 528.6L577.9 528.2L578.3 528.7L578.7 527.9L579.5 528.3L579.9 528.0L580.5 528.9L581.1 528.4L581.6 528.6L582.1 528.6L582.9 529.2L583.5 528.7L584.0 528.7L584.6 528.9L585.2 529.5L585.8 528.2L586.2 529.2L586.9 528.5L587.4 529.2L587.8 528.9L588.2 529.5L589.0 528.8L589.6 529.3L590.3 529.2L590.9 529.3L591.7 529.3L592.2 530.0L592.8 530.0L593.4 529.7L593.9 528.9L594.4 530.2L595.1 529.4L595.7 529.7L596.3 529.2L597.1 530.0L597.6 529.8L598.3 530.4L598.9 529.4L599.4 529.9L599.9 529.4L600.4 529.9L600.8 529.3L601.4 530.2L601.8 530.1L602.4 530.2L603.1 529.7L603.8 530.4L604.5 530.0L605.1 530.1L605.7 530.0L606.5 530.5L607.0 530.4L607.8 530.3L608.2 530.3L609.0 530.8L609.7 530.8L610.4 530.7L610.5 530.7L611.2 531.0L611.9 531.6L612.5 530.5L613.1 530.9L613.9 530.7L614.5 531.7L615.1 531.0L615.9 532.3L616.4 531.2L617.0 531.3L617.4 530.9L618.1 531.5L618.8 531.0L619.4 531.5L620.0 531.3L620.4 532.0L621.0 531.5L621.8 531.9L622.3 530.9L622.9 531.8L623.5 531.8L624.2 532.1L624.6 531.7L625.4 532.7L625.8 531.4L626.5 532.0L627.2 531.7L627.8 532.0L628.4 531.8L629.0 532.5L629.4 531.1L630.0 531.7L630.5 531.5L631.2 532.3L631.8 531.7L632.5 532.3L633.2 532.0L633.9 532.2L634.6 532.1L635.4 532.3L636.1 531.9L636.8 532.2L637.4 532.1L638.0 532.8L638.7 532.8L639.4 533.3L640.1 532.8L640.8 533.2L641.5 532.6L642.0 533.0L642.6 532.5L643.1 533.4L643.8 532.3L644.2 533.4L644.7 532.3L645.4 532.9L646.2 533.1L646.7 533.5L647.1 533.1L647.9 533.0L648.5 532.9L649.0 533.2L649.7 533.5L650.5 533.9L651.1 533.4L651.6 533.7L652.0 532.9L652.5 534.0L653.1 533.7L653.8 534.1L654.4 533.3L654.9 533.4L655.6 533.5L656.0 534.4L656.7 533.1L657.2 534.3L657.6 533.5L658.1 534.1L658.8 533.7L659.3 533.9L659.7 533.2L660.3 534.6L660.9 534.2L661.5 534.0L662.1 534.2L662.8 534.3L663.5 533.6L664.1 534.3L664.7 534.1L665.2 534.6L665.7 534.4L666.2 534.8L666.9 534.1L667.4 534.5L668.1 533.8L668.8 535.0L669.4 534.7L669.9 535.3L670.4 534.6L671.0 535.2L671.6 534.4L672.0 534.7L672.7 534.7L673.4 534.7L674.1 534.4L674.8 534.9L675.5 535.1L676.2 534.9L676.9 534.7L677.5 535.1L678.2 535.4L679.0 535.3L679.4 535.5L679.9 535.6L680.4 534.7L680.9 535.7L681.7 535.4L681.8 535.4L682.3 535.3L683.0 535.0L683.6 536.0L684.2 535.2L684.7 536.0L685.4 535.0L685.9 535.9L686.3 535.2L686.9 536.3L687.5 535.2L688.2 536.5L688.7 535.4L689.5 535.7L690.2 535.3L690.7 536.0L691.4 536.1L692.1 536.2L692.9 535.4L693.6 536.3L694.1 536.3L694.8 536.1L695.4 535.8L696.0 536.6L696.5 535.7L697.3 537.1L697.9 536.6L698.3 536.7L698.9 536.7L699.3 536.9L699.9 536.0L700.4 536.8L701.0 536.0L701.5 536.8L702.2 536.6L702.9 537.4L703.4 536.1L704.1 537.1L704.7 536.2L705.2 537.0L706.0 536.2L706.4 537.4L707.0 537.0L707.6 537.7L708.1 536.6L708.7 537.8L709.4 536.9L710.0 537.3L710.6 536.5L711.1 537.5L711.9 536.5L712.7 537.7L713.1 536.6L713.8 537.8L714.4 537.3L714.8 537.8L715.3 537.2L716.0 538.3L716.6 537.2L717.2 537.7L717.7 537.0L718.1 538.3L718.7 537.7L719.3 537.7L720.0 537.7L720.6 538.3L721.1 537.4L721.9 538.5L722.5 538.0L723.2 538.7L724.0 538.2L724.5 538.7L725.1 537.5L725.5 538.1L726.2 537.5L726.9 538.6L727.6 538.2L728.4 538.8L729.0 537.7L729.6 538.5L730.3 538.5L730.8 538.3L731.3 538.2L732.0 538.9L732.6 538.7L733.2 537.9L733.7 538.5L734.3 539.0L734.8 538.1L735.3 539.4L735.8 538.8L736.4 539.5L737.0 538.8L737.6 539.6L738.0 539.0L738.6 538.8L739.3 538.7L739.8 539.2L740.4 538.5L740.6 539.1L740.9 539.5L741.6 538.4L742.0 539.4L742.7 538.8L743.1 539.5L743.9 539.0L744.4 539.8L745.1 538.4L745.5 539.1L746.1 539.4L746.6 539.9L747.3 539.5L748.0 539.2L748.5 539.0L748.9 538.2L749.6 539.0L750.2 539.6L750.7 538.6L751.3 539.5L751.8 538.9L752.5 540.0L753.0 539.0L753.5 539.1L754.1 539.1L754.9 539.2L755.5 539.0L756.2 540.0L757.0 538.8L757.6 539.8L758.1 538.8L758.8 539.7L759.3 539.3L760.0 539.2L760.4 539.1L761.1 539.9L761.7 539.6L762.4 539.7L762.8 539.5L763.5 539.3L764.2 539.6L764.6 539.6L765.3 539.2L765.8 540.0L766.5 539.3L767.3 540.4L767.7 539.7L768.3 540.0L768.9 539.7L769.6 540.0L770.4 539.7L770.8 539.8L771.3 539.0L771.9 539.8L772.6 539.4L773.3 538.6L773.9 539.2L774.6 539.7L775.4 539.7L776.1 540.3L776.8 539.4L777.3 540.2L778.0 539.6L778.6 539.8L779.4 540.0L779.9 540.3L780.3 539.4L780.8 539.6L781.4 540.7L781.9 539.9L782.4 538.9L783.0 540.0L783.6 539.3L784.1 540.2L784.5 539.3L785.2 540.6L785.6 539.8L786.4 539.8L786.9 539.5L787.6 540.5L788.1 539.7L788.6 540.0L789.3 539.7L789.9 540.7L790.5 539.8L791.3 539.8L791.7 539.2L792.5 540.2L793.1 539.9L793.6 540.3L794.1 539.4L794.7 540.3L795.3 539.7L795.9 540.7L796.5 540.0L797.1 540.2L797.9 540.2L798.5 540.1L799.1 539.9L799.7 540.1L800.4 539.8L801.1 540.6L801.7 540.1L802.3 540.3L803.0 539.7L803.5 540.9L804.1 539.9L804.7 541.1L805.3 539.9L806.0 540.1L806.6 539.5L807.1 540.6L807.7 539.9L808.3 540.2L809.1 540.3L809.9 540.7L810.4 540.4L811.0 540.7L811.7 540.1L812.0 540.4L812.3 541.0L812.9 540.4L813.5 540.8L814.2 539.9L814.9 540.3L815.6 539.9L816.3 540.7L817.1 540.4L817.6 540.9L818.4 540.6L818.8 540.7L819.3 540.5L819.9 541.1L820.4 540.4L820.9 540.8L821.5 539.8L822.0 540.5L822.6 540.6L823.1 541.3L823.9 540.2L824.3 540.5L824.9 540.6L825.5 541.2L826.0 540.7L826.5 540.9L827.1 540.5L827.6 541.3L828.3 540.2L828.9 541.1L829.5 540.9L830.0 540.9L830.7 540.1L831.3 541.4L831.7 540.4L832.4 541.4L833.0 540.9L833.7 541.0L834.2 540.8L834.8 541.0L835.3 540.5L836.0 541.5L836.7 540.3L837.3 541.5L838.0 540.4L838.7 541.2L839.2 540.5L840.0 541.6L840.6 540.9L841.2 541.6L841.7 540.2L842.1 541.2L842.6 540.3L843.2 541.4L843.7 540.3L844.4 541.3L844.9 540.4L845.5 541.5L846.3 541.3L847.0 541.5L847.7 541.0L848.4 541.7L849.2 541.4L849.6 540.9L850.2 541.0L850.7 541.6L851.3 540.9L852.0 541.6L852.7 540.7L853.2 541.4L853.6 541.5L854.1 541.6L854.8 540.7L855.5 541.7L855.9 541.2L856.4 541.9L856.9 541.3L857.7 541.2L858.1 541.2L858.7 541.1L859.5 541.0L860.0 541.8L860.6 541.6L861.1 541.9L861.8 541.4L862.4 541.5L862.9 541.0L863.6 541.3L864.2 541.4L865.0 541.8L865.6 541.1L866.4 541.4L867.0 541.0L867.5 542.0L867.9 541.7L868.7 541.5L869.3 541.3L870.0 541.4L870.8 541.7L871.3 541.6L872.0 541.7L872.6 541.6L873.1 541.6L873.7 542.0L874.5 540.9L875.1 542.2L875.8 541.8L876.2 542.0L876.8 541.9L877.4 542.5L878.0 541.4L878.7 541.7L879.3 541.9L880.0 541.5L880.6 541.5L881.2 542.0L881.9 541.4L882.4 542.2L882.9 541.9L883.7 542.3L884.2 541.0L884.9 542.3L885.4 541.3L886.2 542.2L886.7 541.3L887.3 542.1L887.8 541.2L888.5 542.1L889.2 542.1L889.7 541.8L890.2 541.6L890.9 542.3L891.5 541.3L892.0 542.3L892.5 541.5L893.1 541.8L893.8 542.0L894.5 542.5L895.0 541.3L895.5 542.7L896.0 542.1L896.0 542.1L896.6 542.6L897.1 541.5L897.7 542.2L898.3 541.8L898.8 542.3L899.5 541.4L899.9 542.8L900.5 542.2L901.1 542.3L901.7 541.3L902.2 542.1L902.9 541.9L903.5 542.3L904.2 542.3L905.0 542.9L905.7 542.1L906.2 542.5L906.7 542.1L907.3 542.2L907.9 542.2L908.6 542.4L909.1 542.2L909.9 542.9L910.3 541.9L910.9 542.3L911.6 541.5L912.3 542.5L912.9 541.4L913.6 541.9L914.1 542.1L914.7 542.4L915.2 542.1L915.7 542.4L916.3 541.8L916.9 542.1L917.4 541.8L918.0 542.7L918.6 541.6L919.4 542.2L920.0 541.5L920.7 542.7L921.2 541.5L921.9 542.3L922.4 541.5L922.8 542.1L923.5 542.3L924.1 542.4L924.7 542.2L925.4 542.1L925.9 541.5L926.5 542.7L927.1 541.7L927.7 542.8L928.4 542.2L929.0 542.0L929.6 541.5L930.4 542.0L931.1 542.1L931.6 542.8L932.1 542.0L932.6 541.8L933.1 542.2L933.7 542.5L934.4 541.9L934.9 542.2L935.6 541.7L936.3 542.5L937.1 542.1L937.8 541.8L938.3 541.9L938.9 542.2L939.6 541.8L940.1 542.5L940.8 541.7L941.3 542.3L942.0 541.4L942.8 542.3L943.4 541.4L943.8 542.8L944.5 542.4L945.0 542.4L945.5 541.5L946.2 542.1L946.7 542.1L947.2 542.3L947.8 541.4L948.5 542.6L949.0 541.8L949.5 542.0L949.9 541.4L950.4 542.5L951.1 541.9L951.8 542.7L952.4 541.9L953.2 542.0L953.6 541.7L954.1 542.2L954.8 542.1L955.3 542.7L956.1 541.4L956.6 542.3L957.4 541.7L958.0 542.7L958.7 542.2L959.5 542.3L960.0 541.8L960.6 542.3L961.1 541.7L961.8 542.4L962.5 541.7L963.2 542.6L963.9 541.6L964.6 542.4L965.3 541.8L965.7 542.7L966.5 541.7L967.1 542.2L967.6 541.7L968.1 542.7L968.7 541.4L969.2 542.2L969.8 541.0L970.4 541.9L970.9 541.5L971.4 542.7L971.8 541.3L972.4 542.3L973.1 541.5L973.6 542.1L974.1 541.7L974.6 541.9L975.2 541.5L975.9 542.4L976.4 542.1L977.1 542.4L977.5 541.6L978.0 542.6L978.4 541.4L979.1 542.2L979.6 541.7L980.3 542.1L980.8 541.4L981.3 542.9L981.8 542.0L982.5 542.6L983.0 542.2L983.8 542.4L984.0 542.1" stroke="#3a3a3a" stroke-width="1.3"/>
<path d="M134.3 689.1L134.9 689.1L135.6 691.6L136.3 691.9L137.1 693.0L137.8 692.1L137.8 693.0L138.5 693.4L139.0 692.9L139.6 693.4L140.3 693.8L141.0 694.6L141.7 694.5L142.2 694.9L142.8 693.6L143.3 695.1L143.7 695.0L143.9 695.4L144.5 695.7L144.9 694.7L145.4 696.0L145.9 696.8L146.7 698.1L147.4 695.6L147.9 699.1L148.6 696.2L149.1 700.1L149.5 698.9L149.7 698.3L150.2 700.5L150.6 703.8L151.3 703.4L151.5 703.8L151.8 704.1L152.3 704.9L153.1 702.8L153.8 705.6L154.3 705.3L155.1 705.4L155.4 705.7L155.7 705.9L156.4 703.8L156.9 706.5L157.6 707.5L158.3 704.8L159.1 708.1L159.8 707.5L160.3 708.0L160.9 707.8L161.2 708.7L161.4 708.4L161.8 707.8L162.3 710.9L162.8 708.2L163.5 710.5L163.9 709.6L164.5 710.6L165.1 712.1L165.6 709.4L166.3 709.2L166.9 710.7L167.5 710.4L168.1 711.0L168.7 710.5L169.0 710.6L169.2 710.6L169.9 711.0L170.4 712.5L171.1 712.3L171.8 713.3L172.2 712.4L172.9 713.8L173.5 713.1L174.1 715.9L174.5 716.3L174.9 715.0L175.4 714.3L176.2 715.5L176.7 714.1L176.9 715.5L177.4 715.6L178.1 715.7L178.9 716.0L179.4 714.7L180.0 715.1L180.6 714.0L181.3 715.1L181.8 714.4L182.4 715.4L183.2 714.4L183.9 715.3L184.3 714.6L184.7 714.5L185.1 716.4L185.5 713.0L186.1 716.0L186.7 713.1L187.5 713.5L188.0 712.7L188.8 713.4L189.4 713.1L189.9 713.3L190.4 711.5L190.9 712.8L191.4 711.9L191.8 711.5L192.5 711.6L192.5 711.3L193.3 711.7L193.8 711.5L194.2 714.8L195.0 711.3L195.6 711.5L196.2 711.6L196.7 712.4L197.3 711.8L198.0 713.5L198.6 712.6L199.2 712.5L199.6 711.5L200.3 712.6L200.4 712.7L200.8 710.8L201.4 710.6L202.1 709.1L202.6 709.0L203.3 706.6L203.8 705.7L204.0 705.8L204.7 703.9L205.4 707.8L205.8 708.1L206.4 708.9L206.9 708.8L207.1 709.6L207.6 709.5L208.1 709.2L208.7 711.1L209.5 709.5L210.2 711.1L211.0 709.5L211.6 710.1L212.2 710.9L212.8 711.4L213.0 710.6L213.4 709.6L214.0 709.2L214.5 707.3L215.0 707.6L215.6 705.2L216.3 704.4L216.9 702.8L217.1 702.3L217.8 702.7L218.3 700.7L218.9 702.4L219.3 703.3L219.9 700.8L220.6 699.3L221.3 699.9L221.8 698.9L221.8 698.5L222.6 697.8L223.2 695.3L223.9 694.6L224.6 693.3L225.3 692.3L225.7 691.1L225.8 691.0L226.5 690.9L227.0 688.7L227.6 688.3L228.3 686.7L229.0 687.1L229.5 684.5L230.3 684.7L230.9 683.0L231.6 682.9L231.6 682.3L232.0 682.2L232.6 679.5L233.1 682.3L233.8 682.8L234.3 682.2L235.1 682.8L235.7 685.9L236.4 683.3L237.0 683.7L237.4 683.3L237.6 681.6L238.3 683.1L239.0 683.8L239.6 684.6L240.3 683.5L241.0 681.5L241.3 682.3L241.7 682.0L242.5 682.2L243.2 679.3L243.8 676.7L244.4 677.5L244.9 675.1L245.2 675.5L245.7 674.2L246.4 668.6L247.0 663.4L247.7 659.9L248.2 657.9L248.3 656.0L249.0 645.4L249.5 639.1L250.1 628.6L250.2 625.4L250.8 614.0L251.5 600.1L252.1 589.0L252.1 588.0L252.7 583.8L253.2 582.5L253.4 583.5L254.1 587.2L254.3 588.0L254.7 596.3L255.0 599.3L255.2 602.3L255.7 612.0L256.2 623.1L256.9 635.7L257.0 638.4L257.4 645.1L258.1 660.7L258.7 673.4L258.9 677.4L259.1 680.0L259.7 682.3L260.2 686.7L260.7 690.3L261.1 691.8L261.7 695.2L262.1 698.7L262.6 700.9L262.8 702.8L263.1 703.9L263.7 703.1L264.2 705.7L264.9 705.7L265.5 708.0L266.0 707.1L266.7 710.2L267.2 710.2L267.7 710.6L267.7 710.7L268.2 711.1L268.8 713.0L269.3 712.3L270.0 714.4L270.6 715.5L271.0 716.2L271.6 716.3L272.1 718.4L272.6 718.4L272.7 718.5L273.2 719.8L273.9 719.4L274.6 720.8L275.3 720.7L275.9 722.0L276.6 721.6L277.3 721.5L277.8 723.1L278.3 724.4L278.9 724.8L279.4 725.3L279.6 726.2L280.3 724.8L281.1 725.7L281.7 725.1L282.3 726.2L283.0 726.7L283.4 726.9L283.9 726.6L284.5 727.1L285.2 725.7L285.6 727.4L286.2 727.2L286.3 727.4L287.0 728.2L287.6 728.1L288.1 729.9L288.7 728.5L289.2 729.9L289.9 730.2L290.5 731.1L291.3 731.0L292.0 733.2L292.1 732.1L292.7 732.2L293.2 734.0L293.9 733.3L294.5 734.6L295.1 734.6L295.6 734.9L296.4 735.2L297.0 736.3L297.5 735.6L298.1 736.8L298.6 737.0L299.2 738.0L299.8 737.3L299.9 738.0L300.4 739.1L301.1 738.5L301.8 740.6L302.2 739.9L302.8 740.5L303.3 740.1L304.1 741.4L304.8 742.1L305.3 742.7L305.8 742.9L306.3 743.4L307.1 744.5L307.6 743.5L308.2 745.2L308.8 744.1L309.5 746.9L310.1 745.1L310.8 746.4L311.2 746.4L311.9 746.6L312.5 746.6L313.1 747.7L313.6 747.7L313.6 747.6L314.1 748.8L314.8 746.7L315.4 747.9L315.9 747.4L316.6 748.7L317.2 747.9L317.6 748.7L318.2 748.3L318.8 748.3L319.5 748.6L320.2 749.5L320.9 747.6L321.3 749.1L321.4 748.7L322.0 748.3L322.6 747.9L323.2 750.4L323.9 750.9L324.5 750.7L325.1 752.2L325.8 752.6L326.4 753.7L327.0 753.8L327.3 754.2L327.7 754.8L328.2 754.7L328.7 756.6L329.4 755.9L329.9 756.8L330.6 757.6" stroke="#1a1a1a" stroke-width="1.7"/>
<path d="M330.6 757.6L331.3 758.3L331.8 757.8L332.4 759.2L333.1 759.8L333.8 760.7L334.3 760.3L334.6 761.0L334.9 760.8L335.5 760.5L336.1 761.0L336.6 761.4L337.1 761.4L337.7 761.2L338.4 762.0L338.9 760.9L339.4 761.2L340.1 761.1L340.8 762.0L341.5 761.2L341.9 762.6L342.6 761.9L343.4 762.3L344.1 763.7L344.4 762.0L344.8 762.4L345.2 761.9L346.0 763.0L346.5 762.1L347.1 763.4L347.9 762.7L348.6 762.9L349.0 762.6L349.6 762.9L350.3 762.8L350.8 763.8L351.4 763.4L352.0 765.2L352.5 763.3L353.1 763.4L353.5 763.7L354.0 764.3L354.6 764.0L355.0 764.3L355.4 764.3L356.1 765.0L356.6 764.4L356.8 764.3L357.5 766.7L358.0 765.2L358.5 766.3L359.1 765.7L359.7 767.2L360.3 766.9L361.1 768.7L361.6 768.1L362.1 768.3L362.7 768.8L363.2 769.7L363.9 769.9L363.9 770.0L364.4 770.5L365.2 769.9L365.8 770.6L366.5 769.5L367.0 771.3L367.6 770.2L368.1 771.4L368.8 770.7L369.4 771.0L369.9 769.4L370.4 770.6L370.9 770.8L371.6 770.8L372.1 770.7L372.8 771.7L373.4 771.4L373.9 771.9L374.6 770.9L375.0 771.6L375.5 771.3L376.1 772.5L376.6 771.3L377.3 771.7L377.9 771.3L378.5 771.8L378.6 772.0L379.2 771.5L379.6 772.5L380.3 771.3L380.7 772.8L381.2 772.2L382.0 772.2L382.6 772.2L383.1 772.4L383.6 772.0L384.4 772.3L385.0 772.1L385.7 772.1L386.2 771.7L386.9 772.2L387.4 771.7L387.9 773.0L388.4 771.9L389.1 772.9L389.6 772.5L390.2 772.4L390.7 772.7L391.4 773.3L392.0 772.6L392.7 773.1L393.2 772.5L393.3 772.4L394.0 772.5L394.6 771.6L395.3 772.9L395.9 772.3L396.6 772.7L397.2 771.9L397.6 772.6L398.0 772.2L398.5 772.3L399.0 771.4L399.7 771.5L400.3 770.9L401.0 771.5L401.4 771.5L402.0 772.0L402.8 769.6L403.4 771.0L404.0 770.8L404.6 770.8L405.0 770.3L405.4 770.8L405.5 771.3L406.0 771.0L406.5 771.1L407.1 771.2L407.8 771.6L408.3 771.5L408.8 772.1L409.3 771.5L409.8 772.4L410.3 772.4L410.8 773.1L411.4 772.8L411.9 773.5L412.6 772.5L413.1 773.1L413.9 772.8L414.6 774.1L415.2 774.2L415.8 774.5L416.6 774.2L417.1 775.1L417.7 774.9L417.7 774.8L418.2 774.8L418.9 775.4L419.6 776.2L420.1 775.1L420.6 776.3L421.0 775.8L421.5 776.1L421.9 775.0L422.5 776.3L423.3 776.2L423.8 776.2L424.4 776.9L424.9 777.4L425.5 777.0L426.1 777.2L426.8 776.5L427.3 778.0L427.8 777.0L428.5 777.6L429.2 777.3L429.9 777.7L429.9 778.1L430.5 778.7L431.2 778.8L431.7 777.9L432.1 779.3L432.8 779.1L433.4 779.7L433.8 779.8L434.4 779.8L435.2 779.2L435.8 780.4L436.4 780.1L436.8 780.3L437.2 782.4L438.0 781.4L438.6 781.2L439.3 782.3L439.8 781.3L440.3 783.0L440.7 781.8L441.3 783.5L441.7 782.4L442.1 782.3L442.2 782.7L442.8 782.1L443.3 783.5L443.8 782.2L444.2 782.5L445.0 783.5L445.5 783.6L446.1 783.1L446.6 784.3L447.2 783.5L447.7 784.7L448.2 783.6L448.7 783.8L449.3 783.9L450.1 784.9L450.7 784.4L451.4 785.1L451.9 785.0L452.4 785.6L453.0 784.9L453.6 784.9L454.2 785.4L454.3 785.4L454.7 785.8L455.4 785.0L456.1 786.2L456.8 785.8L457.3 786.1L457.9 784.9L458.6 785.4L459.1 785.9L459.6 785.7L460.1 785.7L460.6 785.8L461.3 784.5L462.0 785.9L462.5 786.0L463.0 786.0L463.4 785.4L464.0 785.9L464.4 785.7L465.0 786.5L465.6 785.6L466.1 787.0L466.5 786.4L466.6 786.3L467.2 786.8L467.7 786.9L468.2 787.0L468.7 786.8L469.2 787.4L469.7 786.2L470.3 786.9L470.8 786.2L471.5 786.9L472.1 786.6L472.9 787.5L473.5 787.6L474.2 788.2L474.8 787.0L475.4 788.3L476.1 787.2L476.8 788.1L477.5 788.2L478.2 788.7L478.9 787.3L479.4 788.6L480.1 788.0L480.7 789.0L481.1 788.4L481.1 788.2L481.6 789.1L482.1 788.3L482.6 789.5L483.2 788.0L483.8 788.6L484.2 787.3L484.9 788.8L485.5 788.3L486.0 787.8L486.4 787.9L486.9 788.1L487.4 789.5L488.1 788.3L488.9 786.6L489.6 787.8L490.1 787.0L490.6 788.3L491.2 787.5L491.7 787.7L492.1 787.0L492.8 787.2L493.3 787.1L493.5 785.6L494.2 786.2L494.6 786.8L495.2 787.8L495.7 787.1L496.4 787.5L497.0 787.5L497.7 788.5L498.4 787.5L498.9 786.7L499.4 788.1L500.2 788.3L500.8 787.5L501.3 789.6L501.9 787.7L502.6 789.2L503.4 788.7L504.0 789.1L504.8 788.7L505.4 789.1L505.5 788.8L505.9 788.8L506.6 788.7L507.1 788.9L507.6 789.2L508.3 789.1L508.8 789.3L509.4 788.4L510.0 789.5L510.7 788.8L511.3 789.1L511.8 788.2L512.3 789.0L512.8 789.2L513.4 789.8L514.0 788.6L514.7 790.1L515.2 788.0L515.7 790.3L516.2 789.7L517.0 790.5L517.7 790.1L518.5 790.2L519.1 789.3L519.7 789.5L520.1 789.5L520.9 789.9L521.5 789.2L521.9 789.7L522.4 789.1L522.8 790.4L523.5 790.2L524.2 790.7L524.7 790.2L525.4 790.1L526.0 790.1L526.6 790.3L527.4 790.1L527.5 790.3L528.0 790.0L528.7 790.5L529.3 791.1L529.7 790.2L530.3 790.5L530.9 790.2L531.4 791.5L532.0 791.1L532.5 791.5L533.0 791.0L533.5 791.3L534.0 791.6L534.6 792.3L535.3 790.7L535.9 791.8L536.6 792.1L537.4 791.9L538.1 791.7L538.8 792.7L539.4 791.4L539.7 792.3L540.0 792.0L540.8 791.7L541.3 792.3L541.9 791.8L542.6 792.7L543.2 792.5L543.7 793.2L544.2 792.2L544.6 793.1L545.2 792.0L545.8 792.5L546.5 792.1L547.2 793.2L547.7 792.7L548.5 793.3L549.0 793.0L549.7 793.7L550.1 793.0L550.8 793.4L551.5 793.1L552.2 793.4L553.0 792.4L553.6 793.6L554.4 793.2L555.0 793.8L555.7 792.2L556.2 794.0L556.8 793.1L556.8 793.2L557.5 794.0L558.0 792.8L558.8 793.2L559.4 793.0L560.0 793.5L560.4 793.3" stroke="#222" stroke-width="1.55"/>
<path d="M560.4 793.3L561.0 794.0L561.5 793.2L562.1 794.0L562.9 792.8L563.6 793.9L564.2 793.0L564.8 794.0L565.3 793.6L565.9 794.2L566.5 793.2L567.2 794.1L567.8 793.3L568.5 794.1L569.0 793.4L569.5 793.9L570.1 793.2L570.7 794.2L571.5 793.7L571.9 794.3L572.6 794.3L573.3 794.3L573.8 794.0L574.2 794.2L574.8 794.5L575.6 794.9L576.3 794.4L577.0 794.6L577.5 794.4L578.1 794.9L578.7 794.4L579.5 794.4L580.0 794.7L580.5 794.6L581.2 794.0L581.9 794.9L582.4 794.8L582.9 794.7L583.3 794.8L583.9 794.7L584.6 794.5L585.0 795.2L585.5 795.0L586.2 795.4L586.8 795.0L587.5 795.6L588.2 795.0L588.6 795.0L589.2 794.5L589.9 795.3L590.7 794.8L591.2 795.7L592.0 794.8L592.6 796.0L593.4 795.2L593.9 795.3L594.5 795.0L595.3 796.0L595.9 795.2L596.3 795.6L596.8 795.3L597.3 796.1L597.7 795.2L598.2 795.7L598.9 795.1L599.3 796.5L600.0 795.5L600.7 796.2L601.4 795.6L602.1 796.9L602.8 795.4L603.5 796.0L604.3 795.4L605.0 796.0L605.7 795.6L606.2 796.8L606.6 796.0L607.1 796.6L607.6 796.1L608.1 796.6L608.7 796.4L609.4 796.5L610.1 795.9L610.5 796.9L611.1 796.5L611.7 796.6L612.2 796.4L612.7 797.2L613.3 796.3L613.9 797.3L614.6 796.1L615.2 796.8L615.9 796.8L616.7 796.7L617.1 796.9L617.8 797.6L618.5 796.3L618.8 797.0L619.0 797.2L619.5 797.0L620.1 797.5L620.6 797.1L621.3 797.6L622.1 796.7L622.6 797.7L623.1 797.0L623.8 797.5L624.4 797.6L625.1 798.0L625.8 797.7L626.3 798.2L626.8 797.7L627.5 798.0L628.2 797.4L628.6 798.4L629.2 797.7L629.7 798.2L630.3 797.7L630.8 798.7L631.3 797.6L631.8 798.2L632.3 798.2L633.1 799.4L633.7 798.2L634.3 798.4L635.0 798.2L635.5 798.8L636.0 798.7L636.8 798.5L637.2 798.4L637.9 799.0L638.4 798.7L638.9 799.2L639.4 799.1L640.0 799.4L640.5 798.7L641.1 799.3L641.5 798.6L642.0 798.8L642.8 798.6L643.4 799.7L644.0 799.3L644.4 799.8L645.0 798.9L645.7 800.0L646.4 799.2L647.0 799.7L647.4 799.5L648.0 800.4L648.7 799.0L649.3 799.5L649.9 799.9L650.6 800.7L651.3 799.7L652.0 800.2L652.4 800.2L652.8 799.9L653.5 799.7L654.1 800.4L654.8 800.4L655.5 801.0L656.3 800.0L656.8 800.9L657.6 800.6L658.3 800.9L659.0 800.3L659.5 801.1L660.2 800.4L660.8 800.8L661.6 800.5L662.3 801.4L662.8 800.4L663.4 801.4L663.9 801.1L664.5 801.8L665.0 800.5L665.7 800.1L666.2 800.9L666.6 801.6L667.2 801.4L667.7 801.8L668.2 801.5L669.0 801.7L669.7 801.2L670.2 801.8L670.6 801.1L671.4 801.7L672.1 802.1L672.8 802.7L673.2 801.6L673.7 802.5L674.5 801.6L675.2 802.1L675.7 802.1L676.2 802.6L676.7 802.2L677.2 802.5L677.9 802.7L678.5 803.2L679.2 802.0L679.7 802.4L680.3 802.2L681.0 803.1L681.7 802.3L681.8 802.8L682.2 803.0L682.6 802.4L683.3 803.3L683.8 802.4L684.4 802.8L685.0 802.6L685.6 803.2L686.4 802.8L686.9 803.3L687.5 803.0L688.0 803.7L688.6 803.4L689.3 803.4L689.8 802.3L690.4 803.5L691.1 802.6L691.5 803.3L692.2 802.9L692.8 803.1L693.4 803.1L694.0 803.5L694.7 802.9L695.1 804.1L695.7 803.1L696.2 803.4L696.7 802.8L697.3 803.5L697.7 802.8L698.2 804.0L698.8 803.3L699.5 804.3L700.2 803.9L700.8 803.9L701.4 803.6L702.1 804.2L702.8 803.7L703.6 804.0L704.4 803.2L704.9 803.9L705.4 803.5L706.1 804.4L706.6 803.3L707.1 804.5L707.8 803.8L708.4 804.4L709.0 803.6L709.8 803.8L710.3 803.5L710.9 804.3L711.6 803.5L712.1 804.7L712.6 803.8L713.2 804.3L713.9 803.9L714.4 804.6L714.9 804.4L715.4 805.1L715.8 804.0L716.4 804.5L716.9 803.8L717.6 804.6L718.1 804.2L718.6 804.5L719.4 804.6L720.0 804.2L720.5 804.3L721.3 804.6L721.9 804.2L722.5 805.2L723.1 804.5L723.6 805.0L724.1 804.9L724.9 805.3L725.5 804.4L726.2 805.0L726.7 804.9L727.1 805.0L727.6 804.1L728.3 805.5L728.9 805.0L729.3 805.5L729.8 804.9L730.5 805.6L731.1 805.3L731.8 805.5L732.2 804.6L732.9 805.6L733.3 804.9L734.0 805.5L734.7 804.5L735.3 805.3L735.8 805.2L736.6 805.0L737.0 805.0L737.5 805.3L738.1 804.5L738.6 805.6L739.0 805.2L739.6 805.3L740.3 805.0L740.6 805.4L741.0 805.4L741.7 805.2L742.1 805.2L742.8 805.3L743.5 805.6L744.0 805.3L744.7 805.5L745.2 805.0L745.7 806.2L746.1 805.3L746.8 805.5L747.4 805.7L748.2 805.6L748.8 805.3L749.2 806.2L749.7 805.4L750.2 805.7L751.0 805.7L751.5 806.3L752.0 805.4L752.5 805.4L752.9 805.1L753.5 805.6L754.2 805.8L754.8 806.1L755.3 805.5L755.8 806.2L756.4 804.6L757.0 805.5L757.6 805.5L758.2 805.8L759.0 805.2L759.5 805.9L760.0 805.4L760.6 806.0L761.2 805.5L761.9 806.4L762.5 805.9L763.2 805.8L763.8 805.5L764.5 806.0L765.2 806.0L765.7 806.0L766.2 805.4L766.7 805.8L767.2 806.8L768.0 806.3L768.5 805.8L769.1 806.0L769.8 805.4L770.6 806.6L771.0 806.3L771.7 806.1L772.3 806.3L772.7 806.2L773.4 805.6L774.1 806.5L774.7 805.8L775.2 806.4L775.9 805.6L776.5 806.7L777.1 805.6L777.8 806.4L778.3 806.1L778.9 806.9L779.4 806.1L779.9 806.9L780.3 806.4L781.0 806.1L781.6 806.2L782.3 806.8L782.8 805.9L783.3 806.5L783.8 806.2L784.5 806.3L785.2 806.2L786.0 806.4L786.6 806.2L787.0 806.9L787.6 806.3L788.1 806.2L788.5 806.1L789.2 806.3L789.7 806.5L790.1 806.5L790.8 806.4L791.5 806.7L792.3 806.3L792.9 807.2L793.3 806.7L794.0 806.4L794.5 806.5L795.1 806.5L795.5 806.7L796.3 807.2L796.9 806.5L797.5 807.2L798.0 806.6L798.6 807.2L799.4 805.9L800.0 807.1L800.5 806.4L801.1 806.9L801.8 806.0L802.4 806.8L803.0 806.7L803.8 807.2L804.3 806.5L805.0 807.0L805.6 806.9L806.1 806.8L806.6 805.9L807.3 807.5L807.9 806.2L808.5 806.9L809.2 806.5L809.9 807.2L810.5 806.8L811.0 807.6L811.7 806.4L812.0 807.0L812.2 807.4L812.8 806.8L813.5 806.9L814.1 806.6L814.6 807.0L815.1 807.1L815.7 806.9L816.4 806.9L816.9 807.2L817.7 806.8L818.1 807.1L818.6 806.4L819.1 807.7L819.6 806.5L820.3 807.1L821.0 806.8L821.5 807.9L822.2 807.3L822.6 807.4L823.2 806.8L823.8 807.5L824.3 807.1L824.7 808.0L825.4 806.5L825.9 807.0L826.6 807.3L827.1 807.7L827.8 806.8L828.4 807.3L829.0 807.2L829.7 807.2L830.5 806.6L831.0 807.3L831.5 807.3L832.3 807.4L832.8 807.2L833.3 807.6L833.9 807.5L834.7 807.7L835.1 807.1L835.8 807.9L836.5 806.9L837.2 808.2L837.6 807.0L838.3 807.7L838.9 807.5L839.6 807.8L840.3 807.3L840.8 807.5L841.5 807.3L842.2 807.9L842.8 807.2L843.4 807.7L844.0 807.4L844.7 807.6L845.4 807.5L846.1 807.7L846.5 807.6L847.1 808.2L847.6 807.2L848.3 808.3L849.0 807.3L849.7 808.3L850.1 807.6L850.7 807.7L851.3 807.2L851.8 808.1L852.3 807.0L853.0 808.4L853.8 807.7L854.3 808.0L855.0 807.1L855.7 807.7L856.2 807.8L856.9 808.1L857.4 807.3L857.9 807.5L858.3 807.5L859.0 808.3L859.6 807.2L860.3 807.8L860.9 807.5L861.5 808.1L862.0 807.1L862.7 808.4L863.2 807.9L863.9 807.5L864.6 807.3L865.1 808.3L865.8 807.5L866.2 808.1L866.8 807.7L867.5 808.3L868.0 807.2L868.4 807.8L868.8 807.8L869.5 808.0L870.0 807.7L870.6 808.0L871.1 807.6L871.9 807.9L872.4 807.8L873.0 808.0L873.5 807.6L874.2 808.7L874.9 807.7L875.5 808.8L876.2 807.6L876.9 808.4L877.6 808.0L878.3 808.2L878.9 808.0L879.4 808.3L880.1 808.0L880.9 808.4L881.4 807.4L881.8 808.4L882.4 807.3L882.8 808.4L883.4 807.8L883.8 808.1L884.3 808.2L884.7 808.2L885.3 808.0L885.8 808.2L886.5 807.6L887.1 808.5L887.6 807.8L888.3 808.4L889.1 807.9L889.7 808.3L890.2 808.0L890.8 808.6L891.4 807.6L892.0 808.1L892.4 807.8L893.0 808.9L893.7 807.6L894.3 808.8L895.1 807.9L895.7 808.4L896.0 808.3L896.4 808.0L897.1 808.8L897.9 807.8L898.6 808.4L899.2 808.3L899.8 808.4L900.5 808.5L901.2 808.6L901.9 808.2L902.5 808.6L903.0 808.5L903.5 808.7L904.0 808.2L904.7 808.1L905.4 808.5L905.9 809.1L906.5 808.2L907.2 809.1L907.8 808.0L908.2 809.0L908.9 808.3L909.4 808.4L909.9 807.8L910.4 808.7L910.8 808.6L911.3 808.9L911.9 807.8L912.3 808.4L912.8 808.2L913.4 808.7L914.1 808.5L914.9 808.4L915.4 808.5L916.1 808.3L916.6 808.0L917.1 808.7L917.5 808.6L917.9 808.7L918.6 808.2L919.3 809.0L919.9 808.1L920.6 808.7L921.1 808.1L921.9 808.6L922.5 808.1L923.1 808.5L923.6 808.1L924.2 809.0L924.8 808.7L925.5 808.5L926.0 808.8L926.5 808.6L927.2 808.0L927.7 808.9L928.3 807.9L928.8 808.9L929.5 807.8L930.1 808.3L930.5 808.3L931.2 808.5L931.8 808.1L932.3 808.9L933.0 808.7L933.8 808.5L934.3 808.1L935.0 809.0L935.4 808.2L936.0 808.9L936.5 808.7L937.1 808.8L937.9 808.6L938.5 809.0L939.0 808.5L939.6 808.6L940.1 808.8L940.7 809.2L941.2 808.8L941.7 808.9L942.3 808.4L942.8 808.6L943.4 808.3L943.9 808.9L944.5 808.6L944.9 807.9L945.4 808.5L946.2 809.1L946.7 808.9L947.2 808.6L947.7 808.4L948.5 808.8L948.9 808.8L949.5 809.2L950.0 808.6L950.6 809.4L951.2 808.7L951.7 808.8L952.4 808.3L952.9 808.6L953.6 808.7L954.2 808.9L954.9 808.2L955.4 809.2L955.9 808.3L956.4 809.5L956.9 808.6L957.6 808.9L958.2 808.7L958.8 809.2L959.4 808.1L960.1 809.1L960.7 808.1L961.3 809.4L962.0 808.5L962.6 809.2L963.2 808.5L963.7 809.0L964.2 809.1L964.8 809.3L965.5 808.8L966.0 808.9L966.6 808.9L967.2 809.2L967.9 808.8L968.4 808.9L968.9 808.4L969.6 808.8L970.0 808.7L970.5 809.5L971.2 808.3L971.9 809.2L972.4 808.5L972.8 809.2L973.5 808.6L974.0 809.0L974.7 809.1L975.1 808.9L975.7 808.9L976.2 809.1L976.7 808.5L977.4 809.9L978.0 808.5L978.7 809.6L979.4 808.9L980.1 809.0L980.8 808.9L981.3 809.6L981.9 809.2L982.4 809.1L983.0 808.9L983.5 809.8L984.0 809.1" stroke="#3a3a3a" stroke-width="1.3"/>
<path d="M135.9 869.5L136.6 870.0L137.3 876.9L137.9 871.9L138.4 875.6L138.8 872.7L139.5 873.9L139.8 874.4L140.1 873.6L140.8 877.9L141.3 874.7L142.0 877.8L142.6 878.4L143.3 878.3L143.7 879.3L143.9 880.9L144.5 885.6L145.1 882.3L145.6 884.2L145.8 887.9L146.3 883.6L146.9 887.7L147.6 881.3L148.1 890.3L148.8 888.9L149.5 890.0L149.5 895.0L150.2 891.6L150.8 894.4L151.2 889.3L151.9 896.1L152.7 897.3L153.2 899.6L153.4 898.8L153.7 897.7L154.2 896.9L154.8 895.0L155.3 896.7L156.1 891.1L156.4 893.0L156.7 894.0L157.2 894.8L157.9 900.0L158.4 902.6L159.2 906.7L159.3 906.6L159.9 903.0L160.6 901.6L161.2 902.0L161.2 895.9L161.9 898.0L162.6 897.7L163.3 903.0L163.8 903.5L164.2 904.7L164.3 900.1L165.0 902.5L165.5 898.5L166.1 904.6L166.6 905.1L167.3 902.1L167.9 904.4L168.1 903.7L168.4 902.6L169.1 906.2L169.6 906.6L170.1 907.8L170.7 906.8L171.1 910.0L171.6 911.5L172.4 912.7L173.0 913.2L173.5 915.2L174.2 914.4L174.6 911.1L174.9 917.4L175.1 922.1L175.9 917.9L176.5 917.5L177.0 917.2L177.6 916.1L178.2 916.9L178.6 915.2L179.4 917.6L179.8 915.9L180.4 917.7L181.1 915.7L181.7 913.2L182.4 915.1L182.7 917.4L182.9 922.2L183.7 918.2L184.5 917.8L185.1 914.9L185.9 920.4L186.4 916.4L187.2 921.5L187.9 917.6L188.5 920.6L188.6 919.3L189.1 917.0L189.7 918.3L190.3 915.9L190.8 919.3L191.4 915.2L192.0 918.8L192.6 915.2L193.3 915.3L193.8 914.7L194.2 916.1L194.6 915.2L195.3 915.2L195.4 914.5L195.8 912.9L196.3 917.1L196.9 915.5L197.7 918.5L198.2 916.2L198.8 913.0L199.3 920.3L199.5 925.6L200.1 920.3L200.6 915.8L201.2 916.9L201.8 914.0L202.3 916.4L202.8 916.9L203.2 912.5L203.4 914.6L204.1 910.7L204.6 913.8L205.3 912.8L206.1 916.1L206.8 913.6L207.4 915.7L208.0 914.9L208.5 917.1L209.1 916.1L209.7 918.6L210.1 916.4L210.4 913.6L211.2 918.0L211.7 922.7L212.1 921.3L212.7 920.8L213.1 917.7L213.6 922.9L214.0 923.2L214.2 923.3L214.7 918.0L215.4 916.3L215.9 912.4L216.7 911.9L216.9 908.6L217.4 904.9L217.9 909.6L218.4 906.7L219.1 909.4L219.8 906.2L219.8 906.6L220.3 904.9L221.0 910.2L221.8 909.6L222.3 916.1L222.9 919.9L223.4 920.0L223.8 923.2L223.9 916.9L224.4 918.6L225.1 913.5L225.7 909.6L226.2 908.7L226.8 916.7L227.3 909.2L227.7 917.2L228.4 909.6L229.0 913.2L229.7 911.4L230.4 915.0L231.0 912.0L231.5 915.8L231.6 913.5L232.2 912.0L232.7 918.8L233.3 913.8L234.1 917.0L234.8 920.6L235.5 918.8L236.1 916.6L236.8 920.4L237.4 920.3L237.5 914.8L238.0 914.0L238.7 917.6L239.5 911.3L240.1 911.9L240.8 908.7L241.3 911.5L241.3 912.2L241.9 913.3L242.5 911.3L243.0 913.3L243.7 912.8L244.5 916.7L245.0 915.5L245.2 917.4L245.7 923.0L246.2 917.8L246.9 922.1L247.4 917.2L248.2 922.3L248.8 919.3L249.5 927.3L250.0 921.6L250.4 920.4L251.1 923.2L251.1 922.5L251.8 925.4L252.4 923.0L252.8 926.2L253.3 924.7L253.9 923.0L254.3 926.9L255.1 929.6L255.8 927.3L256.5 929.3L257.2 928.7L257.8 931.3L257.9 931.1L258.2 931.0L258.9 932.8L259.3 930.7L260.0 932.1L260.6 932.4L261.1 933.0L261.6 931.5L262.0 933.7L262.6 932.2L263.1 933.2L263.7 932.6L264.2 934.2L264.7 933.2L264.8 934.0L265.1 936.1L265.8 936.8L266.3 939.6L266.8 939.3L267.3 943.3L268.0 943.4L268.7 945.5L269.3 947.0L269.6 948.6L269.8 947.3L270.3 940.0L270.6 939.8L270.8 941.5L271.4 940.5L272.1 942.0L272.8 943.1L273.2 943.4L273.8 944.0L274.3 945.7L274.9 946.7L275.5 947.2L276.3 948.5L276.9 945.7L277.5 950.3L278.2 951.7L278.4 951.6L278.9 950.1L279.6 953.3L280.1 952.8L280.8 955.8L281.6 953.9L282.0 953.8L282.7 952.6L283.2 955.2L283.7 954.6L284.1 956.4L284.3 955.5L284.8 957.5L285.3 960.3L285.9 962.7L286.2 963.3L286.4 963.4L287.0 962.0L287.4 964.3L288.0 963.0L288.7 966.0L289.2 964.8L289.8 966.6L290.6 965.0L291.1 967.2L291.7 965.3L292.1 966.2L292.4 966.6L293.1 966.5L293.6 967.9L294.2 968.0L294.7 971.5L295.2 969.1L295.9 972.5L296.4 970.3L297.1 971.6L297.8 975.2L298.0 976.0L298.5 977.7L299.2 976.4L299.8 976.7L300.4 975.8L300.9 978.9L301.4 976.3L302.1 978.9L302.9 977.2L303.6 980.5L304.1 976.7L304.7 980.5L305.2 977.8L305.8 978.9L305.9 978.5L306.6 980.9L307.4 983.7L308.0 984.5L308.7 986.7L308.7 988.4L309.4 985.8L309.9 988.2L310.5 986.7L310.9 991.7L311.5 984.9L311.9 990.6L312.7 988.1L313.1 989.8L313.9 989.8L314.6 990.7L315.2 987.8L315.9 992.8L316.4 991.5L316.9 991.7L317.3 991.0L317.5 992.6L317.7 993.3L318.1 993.0L318.9 989.1L319.3 993.0L319.9 994.0L320.5 994.2L320.9 994.3L321.5 993.7L322.0 993.8L322.8 994.1L323.3 994.8L323.9 993.1L324.6 998.0L325.2 993.9L325.3 995.5L325.8 997.3L326.3 995.8L326.8 998.4L327.5 996.0L328.0 999.7L328.6 997.5L329.2 999.4L329.3 999.5L329.9 998.7L330.7 1001.1" stroke="#1a1a1a" stroke-width="1.7"/>
<path d="M330.7 1001.1L331.4 1000.2L332.0 1002.9L332.5 1002.4L333.1 1002.9L333.7 1003.3L334.4 1004.2L334.6 1004.4L335.1 1003.4L335.7 1005.6L336.4 1003.8L337.0 1006.4L337.8 1005.7L338.5 1006.2L339.0 1006.0L339.7 1006.6L340.4 1007.2L341.2 1007.1L341.7 1007.0L342.2 1007.8L342.7 1007.1L343.2 1008.6L344.0 1007.0L344.4 1008.1L344.5 1006.0L344.9 1008.2L345.5 1008.5L345.9 1008.0L346.6 1010.3L347.3 1009.6L348.0 1011.4L348.5 1010.4L349.0 1011.8L349.5 1010.9L350.2 1012.5L351.0 1014.4L351.6 1013.6L352.3 1011.7L352.9 1013.9L353.6 1014.1L354.2 1014.2L354.2 1015.3L354.8 1014.8L355.6 1015.8L356.3 1014.5L356.9 1015.3L357.7 1015.8L358.3 1016.6L359.0 1015.6L359.5 1017.7L359.9 1016.9L360.4 1017.8L361.0 1017.4L361.7 1018.1L362.2 1017.5L362.8 1020.2L363.2 1018.4L363.9 1018.6L363.9 1019.7L364.6 1018.0L365.1 1018.5L365.8 1019.0L366.5 1020.1L367.0 1018.8L367.5 1020.6L368.0 1019.2L368.7 1020.0L369.4 1022.1L369.9 1021.2L370.4 1021.0L371.0 1018.7L371.8 1020.6L372.4 1022.1L373.0 1020.5L373.5 1021.6L373.7 1021.5L374.1 1020.4L374.7 1021.7L375.4 1021.2L376.1 1022.1L376.7 1021.4L377.5 1022.4L378.1 1021.9L378.9 1023.6L379.4 1022.4L379.8 1022.6L380.6 1022.2L381.0 1022.8L381.8 1021.9L382.4 1024.5L382.8 1023.4L383.3 1023.8L383.5 1023.5L384.0 1022.1L384.6 1024.1L385.2 1024.2L385.7 1025.5L386.4 1024.1L386.9 1025.1L387.7 1025.8L388.1 1026.4L388.8 1027.5L389.4 1027.3L389.9 1026.4L390.4 1027.9L391.0 1027.0L391.7 1027.3L392.2 1026.6L392.8 1027.7L393.2 1028.3L393.2 1028.3L393.9 1029.5L394.7 1027.4L395.4 1029.6L396.0 1029.0L396.4 1029.7L396.9 1029.5L397.6 1029.2L398.3 1030.1L399.0 1031.1L399.8 1029.1L400.4 1030.8L400.9 1030.4L401.5 1030.7L402.0 1030.9L402.6 1030.7L403.0 1030.8L403.4 1030.2L404.0 1032.4L404.7 1030.1L405.4 1032.9L405.9 1031.2L406.5 1031.8L407.2 1032.5L407.8 1032.1L408.3 1032.9L409.0 1033.0L409.6 1032.6L410.2 1033.8L410.7 1031.4L411.1 1035.0L411.6 1034.0L412.0 1035.3L412.6 1033.3L412.8 1034.2L413.1 1034.3L413.5 1033.5L414.2 1034.3L414.9 1034.7L415.6 1035.5L416.1 1034.8L416.8 1035.1L417.4 1035.0L417.9 1035.4L418.6 1035.0L419.1 1035.6L419.6 1035.0L420.1 1034.9L420.9 1034.7L421.4 1035.1L421.9 1034.5L422.5 1035.6L423.1 1035.7L423.7 1037.0L424.2 1035.3L424.8 1036.6L425.4 1034.9L426.0 1036.0L426.7 1035.0L427.2 1036.4L427.4 1036.2L427.8 1035.0L428.6 1037.1L429.2 1035.8L429.9 1038.0L430.6 1036.4L431.1 1037.3L431.6 1036.9L432.4 1037.2L432.9 1036.3L433.5 1037.1L434.0 1036.4L434.8 1038.0L435.4 1037.1L436.2 1038.9L436.6 1037.6L437.2 1038.6L437.8 1037.2L438.4 1038.6L439.0 1038.2L439.6 1039.1L440.1 1038.5L440.5 1039.2L441.1 1037.7L441.7 1038.5L442.1 1039.1L442.2 1037.7L442.7 1040.3L443.1 1039.3L443.6 1039.9L444.2 1039.4L444.7 1041.5L445.4 1038.4L446.1 1041.0L446.8 1040.2L447.5 1040.6L448.0 1039.8L448.6 1040.9L449.3 1039.5L450.0 1040.8L450.5 1040.0L450.9 1041.4L451.4 1040.2L452.0 1041.3L452.7 1040.5L453.2 1041.7L453.9 1040.8L454.6 1041.1L455.3 1041.6L456.0 1039.5L456.5 1040.3L456.7 1041.5L457.2 1042.1L457.7 1041.2L458.1 1041.9L458.7 1040.4L459.3 1042.0L459.7 1041.5L460.2 1041.2L460.7 1040.7L461.2 1042.4L461.6 1041.4L462.1 1041.4L462.6 1041.0L463.1 1042.2L463.7 1042.2L464.4 1042.4L465.0 1041.2L465.6 1042.9L466.1 1041.3L466.8 1041.9L467.3 1041.4L467.7 1042.1L468.2 1042.3L468.9 1043.0L469.3 1042.3L469.8 1042.2L470.4 1041.8L471.0 1042.8L471.4 1042.3L471.7 1042.2L472.3 1043.5L472.9 1041.4L473.4 1043.0L474.2 1042.1L474.9 1044.6L475.4 1042.3L476.0 1042.6L476.6 1043.0L477.1 1041.3L477.7 1043.5L478.5 1043.2L479.0 1043.0L479.6 1044.0L480.1 1044.2L480.9 1043.6L481.4 1042.6L482.0 1044.2L482.7 1044.3L483.2 1045.0L484.0 1044.6L484.5 1045.9L485.2 1044.6L485.7 1044.9L486.0 1044.7L486.3 1044.2L486.9 1045.7L487.4 1044.0L488.1 1045.0L488.6 1043.8L489.2 1044.9L489.9 1045.0L490.5 1045.9L491.0 1045.2L491.6 1046.4L492.4 1044.4L492.8 1045.4L493.5 1044.3L494.2 1045.7L494.8 1045.7L495.4 1046.0L496.1 1046.0L496.8 1046.3L497.6 1045.1L498.2 1045.5L498.7 1045.5L499.2 1046.0L500.0 1046.0L500.6 1046.8L500.7 1045.9L501.0 1045.2L501.7 1046.4L502.1 1046.2L502.7 1047.1L503.3 1045.7L504.0 1046.5L504.6 1045.5L505.3 1046.7L505.9 1046.2L506.7 1047.1L507.4 1046.6L507.9 1048.6L508.6 1046.4L509.2 1047.4L509.9 1046.0L510.6 1047.7L511.2 1046.8L511.6 1045.5L512.4 1047.5L512.9 1048.4L513.3 1047.7L514.0 1047.7L514.5 1046.7L514.9 1048.5L515.3 1047.9L515.3 1046.9L516.0 1048.6L516.6 1048.4L517.2 1048.4L518.0 1048.0L518.6 1048.0L519.0 1048.5L519.8 1049.5L520.3 1048.1L520.7 1050.3L521.2 1047.4L522.0 1048.7L522.6 1047.5L523.1 1049.1L523.7 1048.9L524.2 1049.0L524.9 1049.3L525.6 1049.1L526.1 1048.9L526.6 1049.6L527.3 1049.6L527.9 1049.4L528.5 1049.0L529.0 1049.3L529.8 1049.9L530.0 1049.6L530.4 1050.5L531.1 1048.7L531.8 1049.9L532.5 1049.1L532.9 1050.1L533.6 1048.7L534.4 1050.7L534.8 1048.9L535.2 1050.4L535.9 1050.8L536.6 1048.9L537.1 1050.2L537.8 1051.2L538.3 1050.9L538.9 1051.4L539.5 1050.8L540.0 1051.1L540.7 1050.3L541.3 1050.6L542.0 1050.3L542.7 1052.0L543.1 1051.0L543.6 1051.7L544.3 1051.8L544.6 1051.3L544.8 1051.7L545.4 1051.8L545.9 1051.1L546.3 1051.2L546.9 1052.1L547.4 1051.2L547.9 1051.6L548.5 1051.3L549.1 1052.3L549.8 1050.7L550.4 1051.7L551.0 1051.0L551.6 1051.3L552.3 1053.1L553.0 1052.9L553.8 1051.2L554.5 1051.9L555.2 1051.7L555.7 1053.2L556.4 1051.8L556.9 1051.5L557.4 1052.2L558.0 1053.2L558.4 1052.6L559.0 1052.2L559.5 1051.3L560.0 1052.6L560.6 1052.0" stroke="#222" stroke-width="1.55"/>
<path d="M560.6 1052.0L561.3 1052.9L561.9 1052.1L562.5 1053.0L563.1 1053.6L563.7 1052.5L564.1 1052.5L564.2 1052.6L564.8 1052.9L565.3 1052.6L565.8 1053.3L566.6 1052.7L567.2 1053.4L567.9 1052.0L568.5 1053.3L569.1 1052.5L569.8 1054.4L570.2 1052.9L570.6 1053.2L571.2 1053.0L571.8 1053.7L572.2 1053.5L572.7 1054.2L573.3 1052.6L574.0 1054.6L574.8 1053.1L575.2 1054.1L575.8 1053.4L576.3 1054.6L576.8 1053.3L577.3 1054.2L578.1 1054.4L578.8 1054.7L579.3 1053.8L580.0 1054.2L580.5 1053.5L581.1 1054.8L581.6 1053.7L582.2 1055.3L582.9 1053.8L583.7 1054.8L584.3 1053.9L585.0 1055.0L585.5 1055.3L586.2 1055.0L586.7 1054.8L587.1 1056.0L587.9 1054.6L588.3 1055.8L588.9 1054.7L589.4 1055.7L589.9 1054.8L590.6 1056.7L591.3 1055.6L591.9 1055.9L592.5 1055.9L593.2 1055.8L593.7 1055.1L594.3 1056.9L595.1 1055.5L595.7 1056.1L596.3 1056.3L596.8 1056.5L597.3 1055.8L597.8 1056.9L598.3 1056.3L598.9 1057.5L599.5 1055.9L600.0 1056.6L600.5 1056.6L601.2 1057.4L601.8 1057.0L602.0 1057.0L602.2 1057.2L603.0 1057.2L603.4 1057.1L604.0 1056.4L604.5 1057.5L605.1 1056.8L605.6 1057.8L606.4 1056.6L607.0 1057.8L607.5 1057.5L608.2 1058.2L608.8 1057.3L609.4 1058.1L610.0 1056.8L610.5 1058.7L611.2 1057.4L611.7 1057.7L612.5 1056.8L613.0 1058.1L613.6 1057.6L614.1 1058.3L614.7 1057.8L615.2 1059.0L615.9 1057.7L616.5 1058.3L617.0 1058.4L617.5 1058.9L618.2 1058.7L618.7 1059.6L619.4 1058.0L620.0 1059.5L620.7 1058.7L621.1 1059.1L621.8 1059.1L622.5 1059.2L623.0 1058.8L623.4 1059.4L624.1 1059.1L624.8 1060.0L625.5 1059.4L626.2 1060.3L626.8 1059.3L627.3 1060.1L627.8 1058.7L628.2 1060.3L628.9 1059.3L629.5 1059.9L630.3 1059.5L630.8 1059.9L631.3 1059.6L631.8 1060.4L632.6 1059.4L633.1 1060.2L633.8 1059.6L634.5 1060.5L635.2 1059.6L635.6 1061.0L636.4 1060.4L636.9 1061.2L637.6 1060.5L638.0 1060.5L638.6 1060.4L639.2 1061.1L639.7 1060.8L640.3 1061.6L640.8 1060.5L641.3 1061.4L641.9 1060.8L642.5 1061.8L643.2 1060.2L643.8 1060.9L644.0 1061.2L644.3 1061.2L644.9 1061.4L645.5 1060.5L646.1 1061.9L646.9 1060.5L647.3 1061.5L648.0 1060.7L648.7 1062.1L649.2 1061.4L649.7 1062.2L650.3 1061.6L651.0 1062.1L651.8 1061.3L652.5 1061.9L653.2 1061.7L653.6 1062.6L654.4 1061.5L654.9 1062.7L655.3 1062.1L655.9 1063.1L656.3 1061.2L656.8 1063.1L657.2 1061.5L658.0 1062.4L658.5 1061.5L659.3 1062.5L660.0 1062.3L660.5 1063.2L661.0 1061.6L661.5 1062.3L662.1 1062.2L662.8 1063.4L663.3 1062.2L664.0 1063.2L664.5 1062.2L664.9 1063.7L665.5 1062.6L666.1 1063.5L666.8 1062.0L667.6 1063.5L668.3 1062.9L669.1 1064.1L669.8 1062.2L670.3 1063.0L670.8 1062.8L671.4 1063.6L672.1 1063.1L672.9 1063.2L673.4 1062.9L674.1 1064.3L674.8 1063.0L675.6 1064.0L676.2 1063.6L676.9 1064.1L677.6 1062.8L678.4 1064.0L678.8 1063.6L679.6 1064.6L680.1 1063.4L680.5 1064.3L681.1 1063.2L681.5 1065.0L682.0 1063.7L682.7 1064.5L683.2 1063.6L683.7 1064.6L684.4 1064.6L684.9 1065.0L685.4 1064.5L686.0 1064.2L686.0 1064.5L686.5 1064.3L687.2 1065.1L687.7 1064.7L688.4 1065.2L689.0 1064.1L689.5 1065.1L690.1 1063.9L690.8 1065.5L691.3 1064.9L691.9 1065.2L692.4 1064.9L692.9 1065.5L693.3 1064.3L694.0 1065.7L694.7 1064.8L695.2 1065.8L695.8 1064.9L696.5 1065.9L697.0 1064.9L697.5 1065.4L698.2 1064.5L698.7 1065.7L699.2 1065.3L699.8 1066.7L700.3 1064.8L700.8 1065.8L701.2 1065.0L702.0 1065.9L702.7 1064.9L703.2 1065.7L703.7 1064.9L704.3 1066.7L704.9 1065.2L705.7 1066.1L706.2 1065.0L706.7 1066.5L707.4 1065.4L707.9 1066.4L708.4 1066.0L708.9 1066.7L709.6 1065.9L710.4 1067.3L711.0 1066.3L711.6 1066.3L712.3 1066.1L712.9 1066.5L713.6 1065.9L714.1 1066.5L714.8 1066.8L715.3 1066.9L715.7 1065.8L716.2 1066.8L716.7 1066.1L717.5 1066.8L718.0 1066.2L718.6 1066.9L719.0 1066.0L719.8 1067.4L720.5 1066.2L721.1 1067.2L721.9 1066.7L722.3 1067.7L723.0 1066.1L723.5 1067.1L724.2 1066.2L724.7 1067.2L725.2 1067.0L725.8 1068.0L726.4 1067.5L727.1 1067.8L727.6 1066.7L728.3 1067.7L728.7 1067.7L729.5 1068.0L730.2 1067.5L730.6 1068.2L731.1 1067.2L731.5 1068.0L732.0 1067.1L732.5 1068.3L733.0 1067.4L733.6 1068.0L734.2 1067.0L734.7 1068.4L735.5 1067.3L736.1 1068.7L736.7 1067.4L737.4 1068.8L738.0 1068.3L738.8 1068.4L739.5 1068.3L740.0 1068.5L740.6 1068.3L740.8 1067.4L741.4 1069.0L741.9 1067.4L742.4 1068.8L743.1 1067.7L743.7 1069.1L744.4 1068.0L745.1 1068.8L745.8 1068.4L746.5 1068.6L747.0 1067.6L747.8 1068.7L748.5 1068.0L749.2 1068.9L749.8 1068.0L750.4 1069.0L751.1 1068.7L751.8 1069.0L752.3 1068.6L752.8 1069.5L753.4 1068.2L753.8 1069.0L754.5 1068.7L754.9 1069.1L755.4 1068.2L756.1 1069.5L756.8 1068.1L757.2 1069.3L757.8 1068.4L758.3 1069.2L758.9 1068.2L759.6 1069.3L760.4 1068.5L760.8 1069.3L761.2 1068.9L762.0 1069.2L762.4 1068.1L763.1 1069.4L763.8 1068.2L764.4 1069.5L765.1 1069.1L765.6 1069.7L766.4 1069.2L767.1 1069.9L767.6 1069.4L768.1 1069.4L768.7 1069.1L769.3 1069.3L769.9 1068.7L770.7 1069.7L771.2 1069.1L772.0 1069.5L772.5 1068.3L773.0 1069.6L773.7 1068.6L774.4 1069.6L775.1 1069.2L775.8 1069.9L776.3 1069.1L777.0 1069.6L777.5 1069.3L777.9 1070.0L778.5 1069.0L779.2 1070.4L779.7 1068.6L780.4 1069.6L781.1 1069.4L781.7 1070.3L782.4 1069.5L782.9 1069.5L783.5 1068.7L784.2 1070.3L785.0 1069.5L785.5 1070.3L786.1 1069.3L786.7 1069.9L787.2 1069.3L787.8 1069.9L788.3 1069.5L789.0 1069.6L789.5 1069.4L789.9 1070.0L790.6 1068.7L791.3 1070.6L792.0 1069.3L792.4 1070.6L793.0 1069.5L793.8 1070.4L794.5 1069.2L795.0 1069.9L795.8 1068.7L796.6 1070.7L797.1 1069.7L797.8 1070.0L798.3 1069.9L798.7 1070.3L799.3 1069.3L800.1 1070.7L800.8 1069.8L801.2 1070.8L802.0 1070.1L802.5 1070.5L803.2 1070.9L803.8 1071.0L804.5 1069.9L805.1 1070.5L805.7 1070.1L806.4 1070.7L807.1 1070.0L807.7 1071.2L808.4 1069.3L809.0 1070.2L809.5 1070.5L810.1 1071.0L810.9 1070.2L811.4 1070.8L812.0 1070.4L812.6 1070.0L813.2 1071.1L813.7 1069.6L814.3 1070.8L814.7 1070.7L815.3 1071.3L815.9 1069.5L816.5 1071.0L817.1 1069.9L817.7 1071.5L818.4 1069.6L819.1 1071.2L819.7 1070.5L820.4 1070.7L820.9 1069.8L821.4 1071.2L822.0 1070.7L822.5 1070.4L823.0 1069.9L823.7 1070.9L824.3 1071.8L824.8 1071.1L825.4 1070.5L826.2 1070.9L826.7 1069.9L827.4 1071.1L827.9 1070.4L828.6 1071.2L829.3 1070.5L830.1 1071.4L830.8 1070.2L831.4 1071.7L832.1 1070.4L832.5 1071.1L833.3 1070.7L833.9 1071.5L834.7 1070.1L835.2 1071.5L836.0 1070.8L836.6 1070.7L837.0 1070.8L837.8 1071.3L838.3 1070.7L838.9 1071.6L839.6 1070.4L840.2 1071.7L840.9 1070.0L841.7 1070.7L842.3 1072.2L842.8 1071.6L843.4 1070.4L844.1 1071.5L844.9 1070.5L845.4 1071.4L846.1 1070.9L846.8 1071.1L847.5 1070.6L847.9 1072.0L848.4 1072.2L849.0 1071.2L849.4 1070.2L850.0 1071.4L850.7 1071.2L851.2 1071.8L851.8 1070.9L852.6 1071.9L853.2 1071.4L853.7 1071.6L854.3 1070.8L854.9 1072.1L855.4 1071.1L856.1 1071.2L856.7 1071.3L857.1 1071.9L857.7 1071.1L858.2 1071.9L858.8 1070.3L859.3 1071.4L859.8 1070.8L860.3 1072.2L861.0 1070.9L861.4 1072.2L862.1 1070.6L862.7 1071.4L863.3 1071.2L863.9 1072.2L864.5 1070.5L865.0 1072.1L865.4 1071.7L865.9 1072.4L866.7 1071.4L867.4 1072.0L867.8 1071.1L868.5 1072.2L869.0 1071.7L869.5 1072.0L870.2 1070.9L871.0 1072.5L871.7 1070.8L872.4 1071.6L873.1 1071.2L873.8 1072.0L874.4 1071.2L875.0 1071.7L875.5 1071.6L876.2 1072.3L876.9 1071.8L877.6 1072.5L878.1 1071.5L878.8 1072.3L879.4 1071.3L879.9 1072.4L880.5 1071.2L881.0 1072.4L881.7 1071.9L882.1 1072.0L882.9 1071.9L883.4 1072.3L883.9 1071.9L884.6 1072.3L885.1 1071.3L885.6 1072.1L886.3 1071.7L886.9 1072.1L887.4 1072.2L888.0 1072.1L888.5 1071.5L889.2 1072.2L889.7 1071.8L890.1 1072.8L890.7 1071.2L891.4 1071.9L891.9 1071.6L892.7 1072.0L893.4 1071.5L894.0 1073.0L894.8 1071.7L895.5 1072.6L896.0 1072.1L896.0 1071.3L896.5 1072.4L897.3 1071.6L897.8 1072.4L898.6 1071.3L899.3 1072.8L899.9 1072.3L900.6 1071.9L901.3 1071.7L902.0 1072.2L902.6 1071.6L903.1 1072.2L903.5 1071.4L904.0 1072.1L904.7 1071.7L905.2 1072.7L905.6 1071.7L906.1 1073.0L906.6 1071.7L907.4 1072.6L908.1 1072.1L908.5 1072.1L909.0 1072.3L909.7 1071.9L910.2 1071.6L911.0 1072.5L911.7 1071.8L912.1 1072.6L912.7 1071.6L913.4 1072.7L914.2 1071.4L914.7 1073.1L915.2 1072.1L915.8 1072.6L916.4 1071.6L916.9 1072.1L917.6 1072.1L918.2 1072.1L918.7 1071.9L919.2 1072.3L919.9 1071.4L920.4 1072.9L920.9 1071.9L921.6 1072.1L922.1 1071.6L922.5 1072.7L923.1 1071.3L923.5 1072.7L924.0 1071.2L924.6 1073.0L925.2 1072.3L925.9 1072.6L926.4 1072.0L926.9 1072.0L927.6 1071.2L928.1 1072.6L928.6 1071.3L929.0 1072.1L929.7 1071.6L930.4 1072.5L930.9 1071.9L931.4 1073.0L931.8 1071.7L932.4 1072.3L933.1 1071.7L933.8 1072.2L934.5 1071.6L935.2 1072.9L935.8 1071.8L936.2 1072.0L936.7 1072.1L937.1 1072.7L937.9 1071.3L938.4 1072.1L939.1 1071.6L939.7 1072.1L940.1 1071.3L940.8 1072.7L941.3 1071.1L942.0 1072.8L942.6 1071.8L943.1 1072.9L943.7 1071.2L944.4 1072.5L944.9 1072.2L945.4 1072.4L946.1 1071.2L946.8 1072.2L947.2 1072.0L947.9 1072.4L948.5 1071.5L949.0 1072.6L949.5 1072.0L950.2 1072.1L950.7 1071.2L951.4 1072.9L951.9 1071.1L952.4 1072.2L953.0 1072.3L953.5 1072.8L954.0 1071.5L954.5 1072.2L955.2 1071.2L955.6 1072.4L956.2 1072.2L956.8 1072.3L957.4 1071.7L957.9 1072.6L958.3 1071.0L958.8 1072.4L959.5 1070.7L960.1 1072.8L960.8 1071.7L961.5 1072.9L962.2 1071.7L962.8 1072.4L963.2 1071.5L963.9 1072.4L964.3 1072.0L964.8 1072.8L965.3 1071.5L965.9 1072.9L966.7 1071.9L967.1 1072.4L967.7 1071.3L968.4 1072.4L969.1 1071.2L969.9 1073.1L970.4 1071.6L971.1 1072.1L971.5 1072.0L972.0 1072.1L972.6 1071.4L973.1 1072.4L973.7 1071.8L974.1 1072.6L974.8 1071.3L975.3 1072.4L975.9 1071.7L976.4 1072.4L977.0 1071.9L977.5 1072.8L978.2 1071.8L978.9 1072.3L979.7 1071.7L980.3 1072.1L980.7 1071.2L981.4 1072.4L981.9 1071.7L982.6 1072.7L983.3 1072.0L983.8 1072.8L984.0 1072.1" stroke="#3a3a3a" stroke-width="1.3"/>
<path d="M134.9 1154.2L135.4 1151.9L135.9 1150.6L136.6 1145.1L137.0 1145.5L137.4 1143.4L137.6 1143.0L138.2 1147.3L138.6 1148.4L139.2 1153.7L139.7 1155.1L139.8 1155.2L140.2 1160.4L140.7 1152.9L141.1 1148.7L141.7 1152.6L142.4 1154.3L142.7 1154.2L142.9 1153.4L143.4 1154.9L144.0 1154.8L144.8 1155.4L145.4 1160.2L146.0 1162.8L146.6 1157.1L146.8 1153.8L147.2 1159.8L147.9 1159.9L148.4 1166.2L148.9 1159.4L149.4 1168.7L149.5 1166.9L149.9 1165.2L150.6 1164.9L151.1 1162.3L151.7 1164.2L152.4 1160.3L152.5 1162.0L152.9 1167.2L153.6 1170.8L154.0 1174.6L154.4 1177.6L154.4 1176.4L154.9 1173.4L155.6 1172.7L156.2 1157.0L156.4 1161.0L156.7 1167.6L157.3 1166.8L157.9 1167.5L158.4 1163.9L159.2 1172.2L159.3 1173.7L159.8 1176.7L160.3 1168.0L161.0 1167.4L161.2 1165.9L161.6 1167.3L162.3 1166.8L163.0 1167.6L163.5 1169.1L164.3 1170.9L164.8 1172.2L165.2 1172.7L165.3 1169.4L166.0 1175.0L166.5 1171.4L167.1 1173.4L167.5 1172.4L168.2 1169.0L168.9 1172.5L169.5 1170.2L170.2 1170.8L170.8 1173.1L171.0 1173.7L171.4 1171.8L172.1 1174.6L172.7 1171.5L173.3 1178.4L174.0 1175.9L174.8 1180.7L175.3 1176.5L176.0 1182.2L176.5 1181.0L176.9 1181.5L177.1 1181.6L177.8 1178.8L178.6 1182.1L179.3 1176.2L179.8 1179.5L180.4 1174.3L180.8 1176.6L181.0 1179.4L181.4 1177.9L182.0 1185.4L182.5 1178.4L183.0 1182.1L183.4 1182.0L183.7 1183.5L184.1 1184.6L184.6 1178.4L185.1 1180.0L185.7 1178.4L186.4 1177.3L186.6 1175.7L186.8 1173.5L187.4 1177.1L188.0 1174.5L188.8 1176.6L189.5 1176.9L190.2 1172.9L190.7 1177.1L191.3 1177.8L191.8 1175.1L192.5 1177.6L192.6 1178.4L193.4 1174.2L193.8 1174.6L194.3 1174.5L194.8 1176.9L195.3 1178.5L195.9 1174.5L196.4 1171.8L196.6 1165.9L197.1 1174.1L197.5 1174.2L198.1 1180.1L198.6 1180.2L199.2 1182.4L199.3 1183.5L200.0 1181.2L200.7 1183.1L201.3 1175.2L201.9 1175.3L202.6 1172.0L203.0 1171.8L203.8 1165.0L204.2 1165.9L204.5 1168.9L205.2 1164.5L205.9 1172.5L206.5 1173.3L207.0 1175.3L207.1 1175.7L207.5 1172.9L208.1 1175.4L208.6 1178.3L209.0 1169.1L209.5 1173.5L210.0 1175.5L210.1 1173.7L210.5 1175.7L211.0 1176.6L211.4 1177.1L211.9 1181.9L212.3 1180.0L212.9 1184.3L213.0 1183.5L213.3 1185.6L214.0 1178.1L214.7 1172.9L215.2 1169.7L215.7 1166.6L215.9 1165.9L216.2 1167.8L216.8 1172.5L217.2 1169.3L217.9 1165.5L218.7 1167.6L219.3 1166.0L219.8 1168.8L219.9 1174.3L220.4 1170.9L220.8 1174.2L221.4 1171.7L221.9 1177.9L222.6 1182.6L222.8 1178.6L223.1 1171.6L223.5 1182.0L224.3 1177.1L224.9 1173.7L225.3 1174.1L225.7 1171.8L226.0 1168.5L226.4 1172.0L227.0 1171.1L227.8 1172.8L228.5 1170.9L229.2 1173.8L229.7 1172.5L230.2 1175.0L230.7 1174.3L231.4 1175.1L231.6 1174.7L232.0 1174.3L232.7 1176.8L233.3 1175.3L233.8 1176.5L234.5 1175.4L235.3 1181.9L236.0 1176.6L236.4 1176.6L236.7 1184.4L237.4 1181.3L238.1 1181.1L238.4 1187.4L238.6 1187.6L239.2 1186.7L239.8 1184.8L240.2 1178.5L240.6 1182.1L241.1 1181.8L241.7 1178.4L242.3 1178.6L242.3 1178.7L243.1 1178.6L243.7 1185.8L244.4 1182.8L245.2 1184.8L246.0 1185.4L246.5 1189.5L247.0 1194.5L247.2 1190.3L247.5 1189.7L248.0 1190.1L248.5 1195.1L249.1 1187.5L249.9 1193.1L250.6 1188.1L251.1 1188.4L251.2 1188.7L251.8 1189.1L252.6 1192.1L253.0 1189.7L253.7 1193.7L254.4 1192.1L255.1 1196.7L255.8 1193.7L256.0 1195.2L256.4 1196.0L256.9 1196.0L257.6 1197.1L258.1 1196.9L258.8 1196.6L259.6 1196.6L260.2 1199.2L260.7 1198.5L261.5 1198.9L262.2 1198.1L262.7 1200.5L262.8 1200.1L263.1 1200.9L263.6 1201.1L264.3 1201.4L265.1 1202.8L265.5 1201.4L266.2 1202.7L267.0 1201.8L267.7 1205.7L268.2 1204.4L268.8 1204.8L269.3 1203.2L269.7 1202.6L270.5 1206.0L270.6 1205.9L271.1 1208.6L271.8 1206.8L272.5 1210.1L273.1 1211.4L273.5 1211.8L273.8 1211.5L274.6 1210.9L275.0 1213.4L275.6 1214.9L276.1 1209.1L276.6 1213.7L277.2 1213.9L277.7 1210.2L278.3 1213.5L278.4 1213.8L278.8 1214.8L279.5 1217.3L280.1 1217.5L280.6 1218.3L281.3 1218.3L282.0 1221.9L282.3 1221.6L282.6 1220.5L283.3 1224.3L283.9 1221.6L284.6 1224.0L285.2 1224.6L285.6 1224.7L286.2 1223.5L286.7 1226.0L287.1 1224.8L287.8 1227.8L288.3 1226.1L288.9 1228.8L289.5 1229.1L290.2 1229.7L290.2 1229.4L290.7 1228.2L291.3 1230.4L291.9 1229.0L292.6 1232.0L293.1 1231.6L293.7 1232.8L294.0 1232.3L294.2 1231.2L294.7 1233.8L295.4 1234.0L296.0 1235.2L296.7 1235.2L297.4 1237.4L298.1 1238.1L298.7 1243.1L299.3 1238.2L299.9 1241.1L299.9 1243.0L300.5 1240.1L301.2 1242.9L301.8 1241.6L302.4 1244.2L303.0 1243.0L303.7 1244.9L304.4 1243.9L305.1 1246.7L305.8 1246.0L305.9 1245.9L306.4 1248.0L307.0 1249.0L307.8 1248.9L308.5 1247.2L309.0 1248.9L309.5 1248.2L310.0 1249.5L310.5 1245.5L311.0 1249.7L311.4 1249.1L311.6 1248.9L312.1 1251.1L312.8 1251.6L313.5 1252.5L314.0 1253.0L314.6 1254.8L314.7 1254.9L315.4 1254.1L315.8 1256.4L316.6 1254.5L317.3 1257.2L317.8 1255.9L318.6 1258.4L319.2 1257.2L319.5 1257.7L319.8 1257.9L320.5 1256.6L321.2 1259.7L321.7 1257.7L322.3 1261.3L322.9 1258.8L323.4 1259.4L323.9 1256.6L324.5 1261.5L325.1 1259.4L325.3 1260.6L325.6 1260.7L326.2 1260.8L326.8 1264.3L327.2 1262.7L327.7 1263.7L328.4 1263.4L329.0 1265.9L329.2 1265.5L329.4 1263.8L330.2 1267.2" stroke="#1a1a1a" stroke-width="1.7"/>
<path d="M330.2 1267.2L330.9 1267.1L331.7 1267.1L332.1 1266.5L332.7 1268.6L333.1 1267.3L333.8 1269.4L334.3 1269.3L334.6 1269.5L334.8 1269.7L335.4 1269.5L336.1 1271.2L336.8 1270.0L337.3 1271.6L337.8 1270.5L338.6 1273.3L339.2 1272.5L339.9 1273.5L340.3 1272.9L340.7 1274.4L341.4 1273.1L342.0 1273.6L342.4 1274.1L343.2 1275.1L343.8 1274.9L344.4 1275.6L344.5 1275.3L345.0 1275.6L345.7 1275.8L346.2 1275.4L346.9 1276.3L347.5 1276.1L348.0 1276.8L348.6 1277.1L349.4 1277.8L349.9 1277.4L350.4 1277.5L351.0 1277.2L351.5 1278.4L351.9 1277.5L352.4 1277.9L352.9 1277.5L353.4 1279.3L353.9 1278.8L354.4 1278.9L355.1 1279.1L355.6 1280.0L356.2 1278.0L356.6 1279.3L356.7 1280.0L357.3 1279.9L357.7 1279.8L358.2 1279.0L358.6 1280.3L359.3 1280.9L359.9 1281.6L360.4 1281.6L361.0 1281.6L361.8 1282.0L362.2 1282.2L362.9 1282.5L363.5 1283.8L364.1 1283.8L364.8 1284.2L365.4 1284.1L366.0 1285.2L366.7 1285.3L367.4 1285.6L368.0 1285.8L368.7 1286.6L368.8 1286.1L369.4 1285.0L370.0 1287.0L370.6 1286.4L371.1 1286.4L371.6 1286.8L372.0 1287.8L372.5 1286.4L373.2 1287.4L373.7 1286.5L374.2 1287.9L374.6 1287.9L375.3 1289.1L376.1 1287.4L376.7 1289.0L377.3 1288.4L377.8 1288.6L378.3 1288.5L378.9 1288.6L379.4 1289.0L379.9 1289.8L380.4 1289.2L381.0 1289.6L381.2 1289.6L382.0 1289.5L382.6 1289.9L383.1 1289.6L383.9 1290.7L384.4 1289.7L385.0 1290.7L385.4 1291.2L385.9 1291.6L386.5 1290.3L387.1 1291.2L387.6 1291.9L388.2 1292.6L388.6 1291.9L389.2 1293.9L389.6 1292.9L390.2 1293.2L390.6 1291.9L391.0 1292.7L391.6 1292.6L392.1 1293.8L392.7 1293.4L393.2 1293.5L393.3 1294.5L394.0 1293.5L394.7 1293.9L395.3 1293.2L396.1 1294.9L396.6 1294.8L397.2 1294.0L397.9 1293.5L398.4 1294.8L399.1 1294.1L399.8 1293.5L400.2 1295.5L400.9 1296.3L401.6 1295.8L402.3 1295.4L403.0 1295.8L403.7 1296.4L404.2 1294.7L404.8 1296.4L405.4 1296.4L405.4 1296.4L406.1 1297.7L406.8 1295.7L407.5 1297.1L408.1 1296.5L408.9 1298.3L409.6 1297.4L410.2 1298.7L410.7 1297.2L411.2 1298.1L411.6 1297.7L412.2 1299.3L412.6 1297.5L413.4 1298.7L414.0 1298.1L414.6 1297.8L415.3 1299.3L415.9 1300.1L416.5 1299.8L416.9 1299.3L417.7 1298.1L417.7 1300.0L418.4 1300.0L418.9 1299.2L419.6 1301.2L420.2 1300.5L420.7 1300.2L421.4 1299.5L421.9 1300.7L422.3 1299.2L422.8 1301.0L423.5 1300.8L424.0 1300.8L424.7 1301.2L425.4 1300.9L426.1 1299.7L426.6 1301.0L427.2 1300.3L427.9 1302.1L428.6 1300.0L429.2 1301.9L429.9 1301.9L429.9 1301.3L430.3 1302.4L430.8 1302.1L431.3 1302.4L432.0 1301.3L432.5 1302.7L433.1 1302.0L433.6 1302.6L434.0 1302.5L434.5 1302.5L435.2 1302.5L435.9 1303.8L436.5 1303.4L437.0 1304.5L437.6 1302.5L438.2 1304.5L438.8 1303.3L439.3 1305.0L440.0 1303.3L440.5 1305.1L441.3 1304.6L442.0 1305.5L442.1 1304.9L442.5 1304.2L443.1 1305.1L443.8 1305.1L444.5 1306.0L445.1 1304.5L445.6 1306.3L446.1 1305.0L446.9 1305.7L447.4 1305.1L448.0 1306.2L448.5 1305.4L449.1 1307.0L449.9 1306.2L450.3 1306.2L451.0 1305.8L451.6 1308.7L452.4 1306.6L453.1 1306.5L453.6 1304.9L454.3 1307.0L454.9 1306.7L455.3 1306.8L455.8 1307.5L456.3 1308.2L456.7 1307.4L456.9 1307.2L457.5 1307.3L457.9 1307.1L458.5 1308.5L459.0 1307.6L459.7 1307.8L460.1 1307.0L460.8 1308.4L461.6 1307.3L462.0 1309.1L462.8 1307.3L463.4 1308.8L464.2 1307.9L464.7 1309.8L465.3 1308.1L465.8 1309.3L466.6 1309.2L467.2 1310.0L467.8 1309.5L468.4 1309.0L468.9 1308.1L469.3 1309.9L469.8 1309.1L470.5 1310.4L471.0 1308.7L471.4 1309.8L471.8 1310.8L472.3 1308.8L472.8 1310.4L473.4 1310.3L473.9 1310.0L474.5 1310.6L475.2 1310.9L476.0 1309.5L476.7 1311.5L477.3 1312.1L478.1 1311.1L478.8 1310.3L479.4 1312.4L480.1 1311.4L480.6 1311.7L481.2 1311.5L481.8 1311.3L482.5 1311.5L483.2 1311.5L483.7 1312.2L484.1 1311.7L484.9 1311.3L485.4 1311.8L485.9 1311.4L486.0 1312.3L486.5 1313.1L487.0 1312.2L487.7 1313.2L488.5 1311.2L489.0 1312.8L489.6 1311.7L490.2 1312.0L490.8 1311.5L491.4 1312.5L491.8 1312.7L492.3 1312.6L492.8 1311.4L493.6 1312.4L494.1 1311.6L494.6 1313.3L495.4 1310.9L496.2 1313.2L496.8 1311.4L497.2 1312.1L497.7 1312.0L498.2 1312.1L498.7 1311.9L499.2 1311.9L499.7 1312.9L500.2 1313.1L500.7 1312.3L500.8 1312.4L501.6 1312.2L502.2 1312.1L502.8 1313.4L503.4 1312.1L504.0 1312.6L504.5 1313.0L505.1 1313.3L505.5 1312.8L506.0 1313.7L506.8 1311.9L507.3 1313.1L507.9 1313.3L508.5 1314.5L509.2 1313.3L509.8 1313.8L510.3 1313.7L510.8 1314.1L511.3 1313.8L511.9 1314.4L512.7 1313.3L513.4 1314.9L514.1 1313.2L514.6 1314.8L515.0 1313.6L515.3 1314.0L515.7 1314.9L516.4 1315.8L517.0 1315.4L517.6 1313.7L518.1 1314.4L518.6 1313.9L519.4 1315.2L520.1 1313.7L520.8 1314.3L521.6 1314.6L522.1 1314.0L522.6 1314.3L523.0 1314.4L523.6 1314.4L524.3 1313.2L525.1 1313.6L525.8 1315.3L526.4 1314.4L527.1 1314.5L527.7 1314.1L528.3 1314.5L528.7 1314.5L529.4 1315.4L529.9 1313.0L530.0 1314.7L530.7 1315.2L531.4 1316.5L531.9 1314.7L532.3 1313.9L532.9 1316.1L533.5 1315.4L534.2 1315.8L534.6 1314.9L535.1 1315.9L535.7 1314.6L536.3 1316.4L536.9 1315.0L537.4 1316.3L538.0 1315.2L538.4 1316.4L539.0 1315.0L539.5 1316.8L540.3 1316.2L541.0 1316.1L541.7 1315.8L542.3 1316.7L542.8 1315.1L543.3 1316.3L544.1 1316.5L544.6 1316.4L544.8 1316.7L545.3 1316.5L545.7 1316.7L546.3 1316.7L547.0 1317.2L547.5 1317.3L548.1 1318.0L548.7 1317.5L549.5 1318.0L550.0 1316.6L550.4 1318.2L551.0 1316.6L551.5 1317.5L552.2 1318.0L552.7 1318.6L553.4 1316.6L554.1 1318.1L554.7 1318.0L555.2 1317.8L555.9 1317.6L556.5 1318.2L557.2 1318.0L557.7 1319.5L558.2 1318.5L558.9 1319.2L559.4 1318.2L560.2 1319.6" stroke="#222" stroke-width="1.55"/>
<path d="M560.2 1319.6L560.8 1318.8L561.2 1319.2L561.8 1318.8L562.3 1319.8L563.0 1319.1L563.7 1319.9L564.1 1319.6L564.2 1319.4L564.8 1320.3L565.3 1319.3L566.0 1320.0L566.5 1319.1L567.0 1319.7L567.4 1320.0L568.0 1320.5L568.7 1319.6L569.4 1320.6L570.1 1320.0L570.9 1320.3L571.7 1319.4L572.2 1320.9L572.7 1320.1L573.4 1320.6L574.1 1319.7L574.6 1321.3L575.2 1319.5L575.8 1321.0L576.3 1319.9L576.9 1320.7L577.4 1320.0L577.8 1320.9L578.3 1319.9L578.8 1321.9L579.6 1320.4L580.1 1321.0L580.8 1320.4L581.3 1321.9L581.9 1321.2L582.6 1321.6L583.3 1320.7L583.9 1320.2L584.3 1320.3L584.9 1321.2L585.5 1321.4L586.2 1321.5L586.7 1321.2L587.3 1321.4L588.0 1321.3L588.4 1321.8L589.0 1320.9L589.7 1322.4L590.4 1321.5L590.8 1322.1L591.3 1321.2L591.7 1322.0L592.5 1321.9L593.0 1321.8L593.7 1322.2L594.4 1322.5L595.0 1321.8L595.5 1323.0L596.2 1321.3L596.9 1323.3L597.4 1322.5L598.1 1322.6L598.6 1322.7L599.1 1323.1L599.5 1322.3L600.2 1322.4L601.0 1322.0L601.6 1323.6L602.0 1322.8L602.4 1322.0L602.8 1323.1L603.3 1322.7L603.9 1323.8L604.7 1322.4L605.5 1323.7L606.0 1322.5L606.5 1324.0L607.1 1322.7L607.7 1323.8L608.5 1323.6L608.9 1323.7L609.6 1322.8L610.3 1323.8L611.0 1323.4L611.7 1324.5L612.4 1323.4L612.9 1324.6L613.5 1323.9L614.0 1324.7L614.7 1323.7L615.1 1324.9L615.6 1323.8L616.3 1324.4L616.8 1324.2L617.3 1324.6L617.7 1323.8L618.3 1325.7L618.9 1324.6L619.6 1325.1L620.4 1324.8L621.2 1326.0L621.7 1324.2L622.1 1325.4L622.6 1324.3L623.2 1325.9L623.9 1324.8L624.4 1325.6L624.9 1325.4L625.5 1326.1L626.2 1325.1L626.8 1326.3L627.5 1325.3L628.2 1327.0L628.9 1325.6L629.4 1326.5L630.1 1325.5L630.6 1326.9L631.2 1325.4L631.8 1326.4L632.5 1325.9L633.0 1326.5L633.5 1325.8L634.0 1327.6L634.5 1326.5L635.2 1327.3L635.8 1326.4L636.4 1327.1L636.9 1326.0L637.7 1327.9L638.3 1326.0L638.8 1327.8L639.5 1327.0L640.2 1327.8L641.0 1327.2L641.4 1327.7L642.0 1327.0L642.7 1327.9L643.4 1327.6L644.0 1327.8L644.2 1328.8L644.6 1327.9L645.1 1328.1L645.6 1327.3L646.1 1328.5L646.9 1327.7L647.5 1328.6L648.2 1328.3L648.8 1328.2L649.5 1327.5L650.1 1328.7L650.6 1328.1L651.3 1329.4L652.1 1328.6L652.5 1328.6L653.2 1328.9L653.8 1328.7L654.3 1328.0L654.9 1329.7L655.4 1327.9L655.8 1329.4L656.4 1328.4L657.0 1329.3L657.6 1329.3L658.1 1330.0L658.6 1328.6L659.1 1329.4L659.8 1328.4L660.2 1329.8L660.8 1328.8L661.3 1330.2L662.0 1329.2L662.6 1329.5L663.0 1329.4L663.5 1330.6L664.1 1330.0L664.7 1330.0L665.3 1329.3L665.8 1330.4L666.3 1329.5L666.9 1330.9L667.5 1329.5L668.0 1330.8L668.5 1330.5L669.3 1331.1L669.8 1330.3L670.5 1330.7L671.0 1329.6L671.6 1331.0L672.3 1329.8L673.1 1331.4L673.6 1330.7L674.1 1331.3L674.8 1330.2L675.3 1331.2L675.7 1330.6L676.5 1331.0L677.0 1330.4L677.8 1331.3L678.3 1331.3L679.1 1331.9L679.7 1331.2L680.1 1331.4L680.6 1331.2L681.2 1332.1L681.8 1330.8L682.6 1331.9L683.0 1331.5L683.7 1331.7L684.2 1331.8L684.8 1331.6L685.3 1331.2L685.8 1331.2L686.0 1332.0L686.4 1331.4L687.2 1332.0L687.6 1331.8L688.2 1332.9L689.0 1331.5L689.7 1332.4L690.2 1332.0L690.7 1333.3L691.4 1332.3L692.2 1332.2L692.8 1332.2L693.2 1333.1L694.0 1332.4L694.5 1331.8L695.3 1332.4L695.9 1332.9L696.7 1331.7L697.1 1332.9L697.8 1332.3L698.3 1333.0L698.9 1332.2L699.6 1333.7L700.4 1332.9L700.8 1333.3L701.3 1332.3L701.9 1333.2L702.5 1332.7L703.1 1333.5L703.5 1332.9L704.0 1332.9L704.7 1332.9L705.5 1333.2L705.9 1332.9L706.5 1333.8L707.2 1333.2L707.6 1333.8L708.4 1333.3L708.8 1333.8L709.5 1332.5L710.1 1333.7L710.7 1332.5L711.2 1333.9L711.8 1333.0L712.5 1334.2L713.0 1332.9L713.7 1333.8L714.3 1334.0L714.8 1334.6L715.3 1333.2L715.9 1334.0L716.5 1333.9L717.0 1334.6L717.7 1333.5L718.4 1334.6L719.0 1334.1L719.5 1334.7L720.1 1333.5L720.5 1334.4L721.0 1333.7L721.6 1334.6L722.0 1333.7L722.6 1334.5L723.2 1333.5L723.6 1335.0L724.3 1333.6L724.7 1335.4L725.4 1334.5L726.1 1334.9L726.7 1334.3L727.2 1334.9L727.8 1334.7L728.3 1335.3L729.1 1333.7L729.6 1335.0L730.3 1334.5L731.1 1334.9L731.8 1334.5L732.5 1334.8L733.0 1334.9L733.7 1335.4L734.3 1334.4L735.1 1335.6L735.8 1334.4L736.3 1335.2L737.0 1334.8L737.8 1336.1L738.2 1334.8L738.8 1335.7L739.5 1334.4L739.9 1335.9L740.6 1335.4L740.7 1334.9L741.2 1335.6L741.9 1335.5L742.4 1336.3L743.0 1335.1L743.7 1335.6L744.2 1334.8L744.7 1336.0L745.3 1335.7L745.9 1335.8L746.3 1335.3L746.8 1336.3L747.3 1335.1L748.0 1336.5L748.7 1335.5L749.4 1336.4L749.9 1335.2L750.6 1336.1L751.1 1335.0L751.7 1336.3L752.4 1335.6L752.9 1336.5L753.6 1335.6L754.2 1336.4L754.9 1336.1L755.6 1336.1L756.1 1335.8L756.9 1336.4L757.5 1335.3L758.1 1336.0L758.8 1335.8L759.3 1336.0L760.1 1335.5L760.7 1336.4L761.2 1335.5L761.9 1336.3L762.5 1335.6L763.0 1337.0L763.7 1335.8L764.1 1336.4L764.8 1336.1L765.4 1336.8L766.0 1336.4L766.8 1336.5L767.4 1336.0L768.1 1336.8L768.6 1336.0L769.0 1337.3L769.5 1335.9L769.9 1336.9L770.6 1336.0L771.1 1337.2L771.7 1336.5L772.5 1336.7L773.0 1336.5L773.5 1336.8L774.1 1336.3L774.5 1337.2L775.0 1335.9L775.5 1337.2L776.0 1335.9L776.5 1337.4L777.0 1336.2L777.6 1337.5L778.3 1336.4L778.8 1336.9L779.4 1336.3L780.0 1336.6L780.5 1336.6L781.2 1336.7L781.7 1336.4L782.2 1337.7L782.7 1336.3L783.3 1337.9L784.0 1336.4L784.8 1337.4L785.3 1337.0L785.8 1337.7L786.2 1336.9L786.9 1337.5L787.5 1337.0L788.1 1337.1L788.7 1336.1L789.3 1337.3L790.1 1336.6L790.8 1337.7L791.3 1337.1L792.0 1337.4L792.4 1337.1L793.0 1338.2L793.6 1336.6L794.1 1337.6L794.6 1337.0L795.3 1337.5L795.7 1336.5L796.3 1338.2L797.1 1337.6L797.5 1337.3L798.0 1337.4L798.7 1337.7L799.3 1336.7L799.9 1337.6L800.6 1336.8L801.1 1338.4L801.6 1337.3L802.2 1338.3L802.6 1337.3L803.4 1337.7L804.1 1337.7L804.7 1337.7L805.2 1336.9L805.9 1337.9L806.6 1337.9L807.1 1338.2L807.8 1337.0L808.4 1337.9L808.9 1337.1L809.4 1338.0L809.9 1337.8L810.3 1338.1L810.9 1337.8L811.5 1338.5L812.0 1337.9L812.2 1336.9L813.0 1338.6L813.6 1337.4L814.1 1338.6L814.8 1337.6L815.3 1338.0L816.0 1337.4L816.6 1338.7L817.2 1338.0L817.8 1338.7L818.6 1338.1L819.1 1338.0L819.8 1337.3L820.2 1338.7L820.8 1337.3L821.3 1338.6L822.0 1337.5L822.7 1338.8L823.4 1337.4L823.9 1338.2L824.7 1338.0L825.2 1339.1L825.7 1338.1L826.5 1338.6L827.1 1338.0L827.8 1339.0L828.4 1337.4L829.2 1338.7L829.8 1337.4L830.5 1338.6L831.2 1338.2L831.9 1338.9L832.5 1337.7L833.2 1338.9L833.8 1338.3L834.3 1338.4L834.8 1337.5L835.5 1338.1L835.9 1337.8L836.7 1338.7L837.1 1337.4L837.6 1339.1L838.0 1337.5L838.8 1338.6L839.3 1337.9L839.8 1338.9L840.2 1337.8L840.7 1338.4L841.3 1337.9L842.0 1339.0L842.7 1337.8L843.3 1338.9L843.8 1337.7L844.4 1338.8L845.0 1337.5L845.7 1338.5L846.4 1338.2L847.1 1338.8L847.6 1338.6L848.3 1338.6L849.1 1338.0L849.8 1338.7L850.3 1337.9L850.8 1338.3L851.2 1338.4L851.7 1338.9L852.4 1338.3L853.1 1338.9L853.8 1338.2L854.5 1338.6L855.1 1338.0L855.6 1339.3L856.1 1338.1L856.5 1339.1L857.2 1337.9L857.7 1337.5L858.3 1338.2L858.9 1339.0L859.3 1338.7L859.8 1338.8L860.3 1338.0L861.0 1339.3L861.5 1338.0L862.1 1339.4L862.8 1337.8L863.4 1338.9L864.2 1338.3L864.8 1338.5L865.2 1337.9L865.8 1339.2L866.4 1338.2L867.1 1339.1L867.6 1338.8L868.3 1339.0L868.9 1338.6L869.4 1338.6L870.1 1338.5L870.6 1339.3L871.3 1337.9L871.8 1339.0L872.2 1338.6L872.7 1339.4L873.4 1338.5L874.2 1338.7L874.6 1338.1L875.2 1339.3L875.8 1338.2L876.5 1339.4L877.0 1338.7L877.6 1338.7L878.1 1338.0L878.9 1338.8L879.4 1338.8L880.1 1339.0L880.6 1338.9L881.1 1338.7L881.8 1338.2L882.4 1338.9L882.9 1339.0L883.5 1339.7L884.0 1338.6L884.7 1338.9L885.4 1338.3L886.0 1338.7L886.7 1338.4L887.2 1339.1L887.8 1338.6L888.4 1339.4L889.1 1338.1L889.6 1339.4L890.3 1338.4L890.7 1340.1L891.2 1338.7L891.7 1339.4L892.5 1338.1L893.1 1338.9L893.6 1339.2L894.4 1339.5L894.9 1338.4L895.5 1339.2L896.0 1339.1L896.1 1338.8L896.8 1339.8L897.5 1339.1L898.1 1339.5L898.7 1338.5L899.2 1338.0L899.7 1338.7L900.4 1339.8L901.1 1338.5L901.7 1339.4L902.2 1338.9L902.8 1339.1L903.5 1339.0L904.1 1339.2L904.6 1338.8L905.2 1339.2L905.9 1338.5L906.4 1339.6L906.9 1339.0L907.4 1339.9L908.1 1338.7L908.8 1340.0L909.3 1339.1L909.8 1340.1L910.3 1339.3L910.8 1339.4L911.5 1338.6L911.9 1339.8L912.5 1339.3L913.0 1339.2L913.7 1339.1L914.4 1339.3L914.9 1339.1L915.6 1339.7L916.1 1339.1L916.6 1339.2L917.4 1338.8L918.1 1339.3L918.8 1339.2L919.4 1340.0L919.9 1339.3L920.5 1339.4L921.0 1339.4L921.5 1339.4L922.0 1339.0L922.5 1339.3L923.0 1339.1L923.7 1339.5L924.4 1338.8L925.0 1339.8L925.6 1338.6L926.2 1339.6L926.7 1340.2L927.4 1340.0L927.9 1339.2L928.6 1339.6L929.4 1339.0L929.9 1340.1L930.5 1338.6L931.2 1339.2L931.8 1339.0L932.3 1339.7L933.0 1339.0L933.7 1339.8L934.4 1338.8L935.1 1339.8L935.8 1339.3L936.5 1339.5L937.1 1338.8L937.7 1340.0L938.3 1338.9L938.9 1340.2L939.4 1338.9L939.9 1339.3L940.6 1338.8L941.3 1340.1L942.0 1338.9L942.5 1339.5L943.0 1339.6L943.6 1340.0L944.3 1339.0L944.8 1340.2L945.5 1338.8L946.2 1339.6L946.7 1339.4L947.4 1339.8L948.1 1338.7L948.6 1339.3L949.2 1339.7L950.0 1340.1L950.5 1338.7L951.1 1339.9L951.5 1339.1L952.2 1339.7L953.0 1339.0L953.6 1339.7L954.1 1339.0L954.7 1339.9L955.3 1338.5L956.0 1339.5L956.6 1339.1L957.2 1339.9L958.0 1339.1L958.6 1339.7L959.1 1338.9L959.9 1339.3L960.4 1339.6L961.1 1340.0L961.6 1339.2L962.3 1340.2L962.8 1339.2L963.6 1340.2L964.1 1339.5L964.5 1339.4L965.1 1338.7L965.6 1339.7L966.0 1339.0L966.6 1339.6L967.2 1339.5L967.9 1339.8L968.4 1339.6L968.9 1339.9L969.4 1338.9L970.1 1340.1L970.9 1339.3L971.5 1339.8L972.0 1338.9L972.7 1340.2L973.2 1338.8L973.8 1340.1L974.2 1339.7L974.9 1340.6L975.6 1338.8L976.3 1339.9L976.9 1339.5L977.5 1340.2L978.0 1339.4L978.8 1340.0L979.3 1338.8L980.0 1340.0L980.0 1339.6" stroke="#3a3a3a" stroke-width="1.3"/>
</g>
<path fill="none" stroke="#000" stroke-width="2.7" d="M135.0 287.8V269.8M195.7 287.8V278.3M256.4 287.8V269.8M317.1 287.8V278.3M377.9 287.8V269.8M438.6 287.8V278.3M499.3 287.8V269.8M560.0 287.8V278.3M620.7 287.8V269.8M681.4 287.8V278.3M742.2 287.8V269.8M802.9 287.8V278.3M863.6 287.8V269.8M924.3 287.8V278.3M135.0 554.3V536.3M195.7 554.3V544.8M256.4 554.3V536.3M317.1 554.3V544.8M377.9 554.3V536.3M438.6 554.3V544.8M499.3 554.3V536.3M560.0 554.3V544.8M620.7 554.3V536.3M681.4 554.3V544.8M742.2 554.3V536.3M802.9 554.3V544.8M863.6 554.3V536.3M924.3 554.3V544.8M135.0 820.8V802.8M195.7 820.8V811.3M256.4 820.8V802.8M317.1 820.8V811.3M377.9 820.8V802.8M438.6 820.8V811.3M499.3 820.8V802.8M560.0 820.8V811.3M620.7 820.8V802.8M681.4 820.8V811.3M742.2 820.8V802.8M802.9 820.8V811.3M863.6 820.8V802.8M924.3 820.8V811.3M135.0 1087.6V1069.6M195.7 1087.6V1078.1M256.4 1087.6V1069.6M317.1 1087.6V1078.1M377.9 1087.6V1069.6M438.6 1087.6V1078.1M499.3 1087.6V1069.6M560.0 1087.6V1078.1M620.7 1087.6V1069.6M681.4 1087.6V1078.1M742.2 1087.6V1069.6M802.9 1087.6V1078.1M863.6 1087.6V1069.6M924.3 1087.6V1078.1M135.0 1354.6V1336.6M195.7 1354.6V1345.1M256.4 1354.6V1336.6M317.1 1354.6V1345.1M377.9 1354.6V1336.6M438.6 1354.6V1345.1M499.3 1354.6V1336.6M560.0 1354.6V1345.1M620.7 1354.6V1336.6M681.4 1354.6V1345.1M742.2 1354.6V1336.6M802.9 1354.6V1345.1M863.6 1354.6V1336.6M924.3 1354.6V1345.1M135.0 21.0V39.0M195.7 21.0V31.0M256.4 21.0V39.0M317.1 21.0V31.0M377.9 21.0V39.0M438.6 21.0V31.0M499.3 21.0V39.0M560.0 21.0V31.0M620.7 21.0V39.0M681.4 21.0V31.0M742.2 21.0V39.0M802.9 21.0V31.0M863.6 21.0V39.0M924.3 21.0V31.0M105.0 45.5H122.5M984.5 45.5H967.0M105.0 69.7H114.0M984.5 69.7H975.5M105.0 93.9H122.5M984.5 93.9H967.0M105.0 118.1H114.0M984.5 118.1H975.5M105.0 142.3H122.5M984.5 142.3H967.0M105.0 166.5H114.0M984.5 166.5H975.5M105.0 190.7H122.5M984.5 190.7H967.0M105.0 214.9H114.0M984.5 214.9H975.5M105.0 239.1H122.5M984.5 239.1H967.0M105.0 263.3H114.0M984.5 263.3H975.5M105.0 317.4H122.5M984.5 317.4H967.0M105.0 347.1H114.0M984.5 347.1H975.5M105.0 376.8H122.5M984.5 376.8H967.0M105.0 406.5H114.0M984.5 406.5H975.5M105.0 436.2H122.5M984.5 436.2H967.0M105.0 465.9H114.0M984.5 465.9H975.5M105.0 495.6H122.5M984.5 495.6H967.0M105.0 525.3H114.0M984.5 525.3H975.5M105.0 584.2H122.5M984.5 584.2H967.0M105.0 613.8H114.0M984.5 613.8H975.5M105.0 643.4H122.5M984.5 643.4H967.0M105.0 673.0H114.0M984.5 673.0H975.5M105.0 702.6H122.5M984.5 702.6H967.0M105.0 732.2H114.0M984.5 732.2H975.5M105.0 761.8H122.5M984.5 761.8H967.0M105.0 791.4H114.0M984.5 791.4H975.5M105.0 864.9H114.0M984.5 864.9H975.5M105.0 909.5H122.5M984.5 909.5H967.0M105.0 954.1H114.0M984.5 954.1H975.5M105.0 998.7H122.5M984.5 998.7H967.0M105.0 1043.3H114.0M984.5 1043.3H975.5M105.0 1132.2H114.0M984.5 1132.2H975.5M105.0 1176.7H122.5M984.5 1176.7H967.0M105.0 1221.1H114.0M984.5 1221.1H975.5M105.0 1265.6H122.5M984.5 1265.6H967.0M105.0 1310.0H114.0M984.5 1310.0H975.5"/>
<path d="M103.5 21.0H986.0M103.5 287.8H986.0M103.5 554.3H986.0M103.5 820.8H986.0M103.5 1087.6H986.0M103.5 1354.6H986.0M105.0 19.5V1356.1M984.5 19.5V1356.1" stroke="#000" stroke-width="3" fill="none"/>
<rect x="687" y="22.6" width="296.0" height="64.4" fill="#fff"/>
<path d="M686.8 22.0V87" stroke="#a3a3a3" stroke-width="4.0" fill="none"/>
<path d="M688.8 21.8H984.5" stroke="#3a3a3a" stroke-width="1.8" fill="none"/>
<path d="M685.4 87H984.5" stroke="#555" stroke-width="2" fill="none"/>
<text x="707.3" y="65.8" font-size="41.3" font-weight="bold" fill="#000" stroke="#fff" stroke-width="0.5">P<tspan font-weight="normal">(</tspan><tspan font-style="italic">N</tspan>-PenGly<tspan font-weight="normal">)</tspan></text>
<text x="946.5" y="81.6" font-size="23.5" font-weight="bold" fill="#000">25</text>
<rect x="711.2" y="289.40000000000003" width="271.79999999999995" height="62.999999999999964" fill="#fff"/>
<path d="M711.2 288.8V352.4" stroke="#585858" stroke-width="2.2" fill="none"/>
<path d="M713.0 288.6H984.5" stroke="#3a3a3a" stroke-width="1.8" fill="none"/>
<path d="M709.6 352.4H984.5" stroke="#555" stroke-width="2" fill="none"/>
<text x="728.1" y="331.4" font-size="41.3" font-weight="bold" fill="#000" stroke="#fff" stroke-width="0.5">P<tspan font-weight="normal">(</tspan><tspan font-style="italic">N</tspan>-BuGly<tspan font-weight="normal">)</tspan></text>
<text x="947.7" y="347.2" font-size="23.5" font-weight="bold" fill="#000">25</text>
<rect x="722.4" y="555.9" width="260.6" height="66.60000000000005" fill="#fff"/>
<path d="M722.4 555.3V622.5" stroke="#585858" stroke-width="2.3" fill="none"/>
<path d="M722.4 555.9H984.5" stroke="#000" stroke-width="2.6" fill="none"/>
<path d="M720.8 622.5H984.5" stroke="#555" stroke-width="2" fill="none"/>
<text x="740.3" y="600.6" font-size="41.3" font-weight="bold" fill="#000" stroke="#fff" stroke-width="0.5">P<tspan font-weight="normal">(</tspan><tspan font-style="italic">N</tspan>-PrGly<tspan font-weight="normal">)</tspan></text>
<text x="948.5" y="616.4" font-size="23.5" font-weight="bold" fill="#000">50</text>
<rect x="721.8" y="822.4" width="261.20000000000005" height="65.10000000000005" fill="#fff"/>
<path d="M721.8 821.8V887.5" stroke="#5e5e5e" stroke-width="2.1" fill="none"/>
<path d="M723.5999999999999 821.5999999999999H984.5" stroke="#3a3a3a" stroke-width="1.8" fill="none"/>
<path d="M720.1999999999999 887.5H984.5" stroke="#555" stroke-width="2" fill="none"/>
<text x="740.4" y="864.8" font-size="41.3" font-weight="bold" fill="#000" stroke="#fff" stroke-width="0.5">P<tspan font-weight="normal">(</tspan><tspan font-style="italic">N</tspan>-EtGly<tspan font-weight="normal">)</tspan></text>
<text x="945.5" y="880.5999999999999" font-size="23.5" font-weight="bold" fill="#000">50</text>
<rect x="838.7" y="1089.1999999999998" width="144.29999999999995" height="64.70000000000019" fill="#fff"/>
<path d="M838.7 1088.6V1153.9" stroke="#a0a0a0" stroke-width="4.0" fill="none"/>
<path d="M840.5 1088.3999999999999H984.5" stroke="#3a3a3a" stroke-width="1.8" fill="none"/>
<path d="M837.1 1153.9H984.5" stroke="#555" stroke-width="2" fill="none"/>
<text x="853.7" y="1132.0" font-size="41.3" font-weight="bold" fill="#000" stroke="#fff" stroke-width="0.5">PSar</text>
<text x="948.8" y="1147.8" font-size="23.5" font-weight="bold" fill="#000">50</text>
<path d="M122.1 1377.3H126.4V1411.6H122.1V1382.2L113.2 1389.6V1385.6Z" fill="#000" stroke="#fff" stroke-width="0.5"/>
<text text-anchor="middle" transform="translate(148.8 1411.5) scale(0.88 1)" font-size="51" fill="#000" stroke="#fff" stroke-width="0.5">0</text>
<text text-anchor="middle" transform="translate(242.1 1411.5) scale(0.88 1)" font-size="51" fill="#000" stroke="#fff" stroke-width="0.5">2</text>
<text text-anchor="middle" transform="translate(270.2 1411.5) scale(0.88 1)" font-size="51" fill="#000" stroke="#fff" stroke-width="0.5">0</text>
<text text-anchor="middle" transform="translate(363.6 1411.5) scale(0.88 1)" font-size="51" fill="#000" stroke="#fff" stroke-width="0.5">3</text>
<text text-anchor="middle" transform="translate(391.7 1411.5) scale(0.88 1)" font-size="51" fill="#000" stroke="#fff" stroke-width="0.5">0</text>
<text text-anchor="middle" transform="translate(485.0 1411.5) scale(0.88 1)" font-size="51" fill="#000" stroke="#fff" stroke-width="0.5">4</text>
<text text-anchor="middle" transform="translate(513.1 1411.5) scale(0.88 1)" font-size="51" fill="#000" stroke="#fff" stroke-width="0.5">0</text>
<text text-anchor="middle" transform="translate(606.4 1411.5) scale(0.88 1)" font-size="51" fill="#000" stroke="#fff" stroke-width="0.5">5</text>
<text text-anchor="middle" transform="translate(634.5 1411.5) scale(0.88 1)" font-size="51" fill="#000" stroke="#fff" stroke-width="0.5">0</text>
<text text-anchor="middle" transform="translate(727.9 1411.5) scale(0.88 1)" font-size="51" fill="#000" stroke="#fff" stroke-width="0.5">6</text>
<text text-anchor="middle" transform="translate(756.0 1411.5) scale(0.88 1)" font-size="51" fill="#000" stroke="#fff" stroke-width="0.5">0</text>
<text text-anchor="middle" transform="translate(849.3 1411.5) scale(0.88 1)" font-size="51" fill="#000" stroke="#fff" stroke-width="0.5">7</text>
<text text-anchor="middle" transform="translate(877.4 1411.5) scale(0.88 1)" font-size="51" fill="#000" stroke="#fff" stroke-width="0.5">0</text>
<text text-anchor="middle" transform="translate(970.7 1411.5) scale(0.88 1)" font-size="51" fill="#000" stroke="#fff" stroke-width="0.5">8</text>
<text text-anchor="middle" transform="translate(998.8 1411.5) scale(0.88 1)" font-size="51" fill="#000" stroke="#fff" stroke-width="0.5">0</text>
<text x="448" y="1498.5" font-size="50" style="font-family:'Liberation Serif',serif" fill="#000" stroke="#fff" stroke-width="0.6">2&#920;</text>
<text x="522.5" y="1498.5" font-size="53.3" fill="#000" stroke="#fff" stroke-width="0.5">[deg]</text>
<text transform="translate(50.8 841.2) rotate(-90) scale(1.076 1)" font-size="49.2" fill="#000" stroke="#fff" stroke-width="0.7">intensity a.u.</text>
</svg>
</body></html>
